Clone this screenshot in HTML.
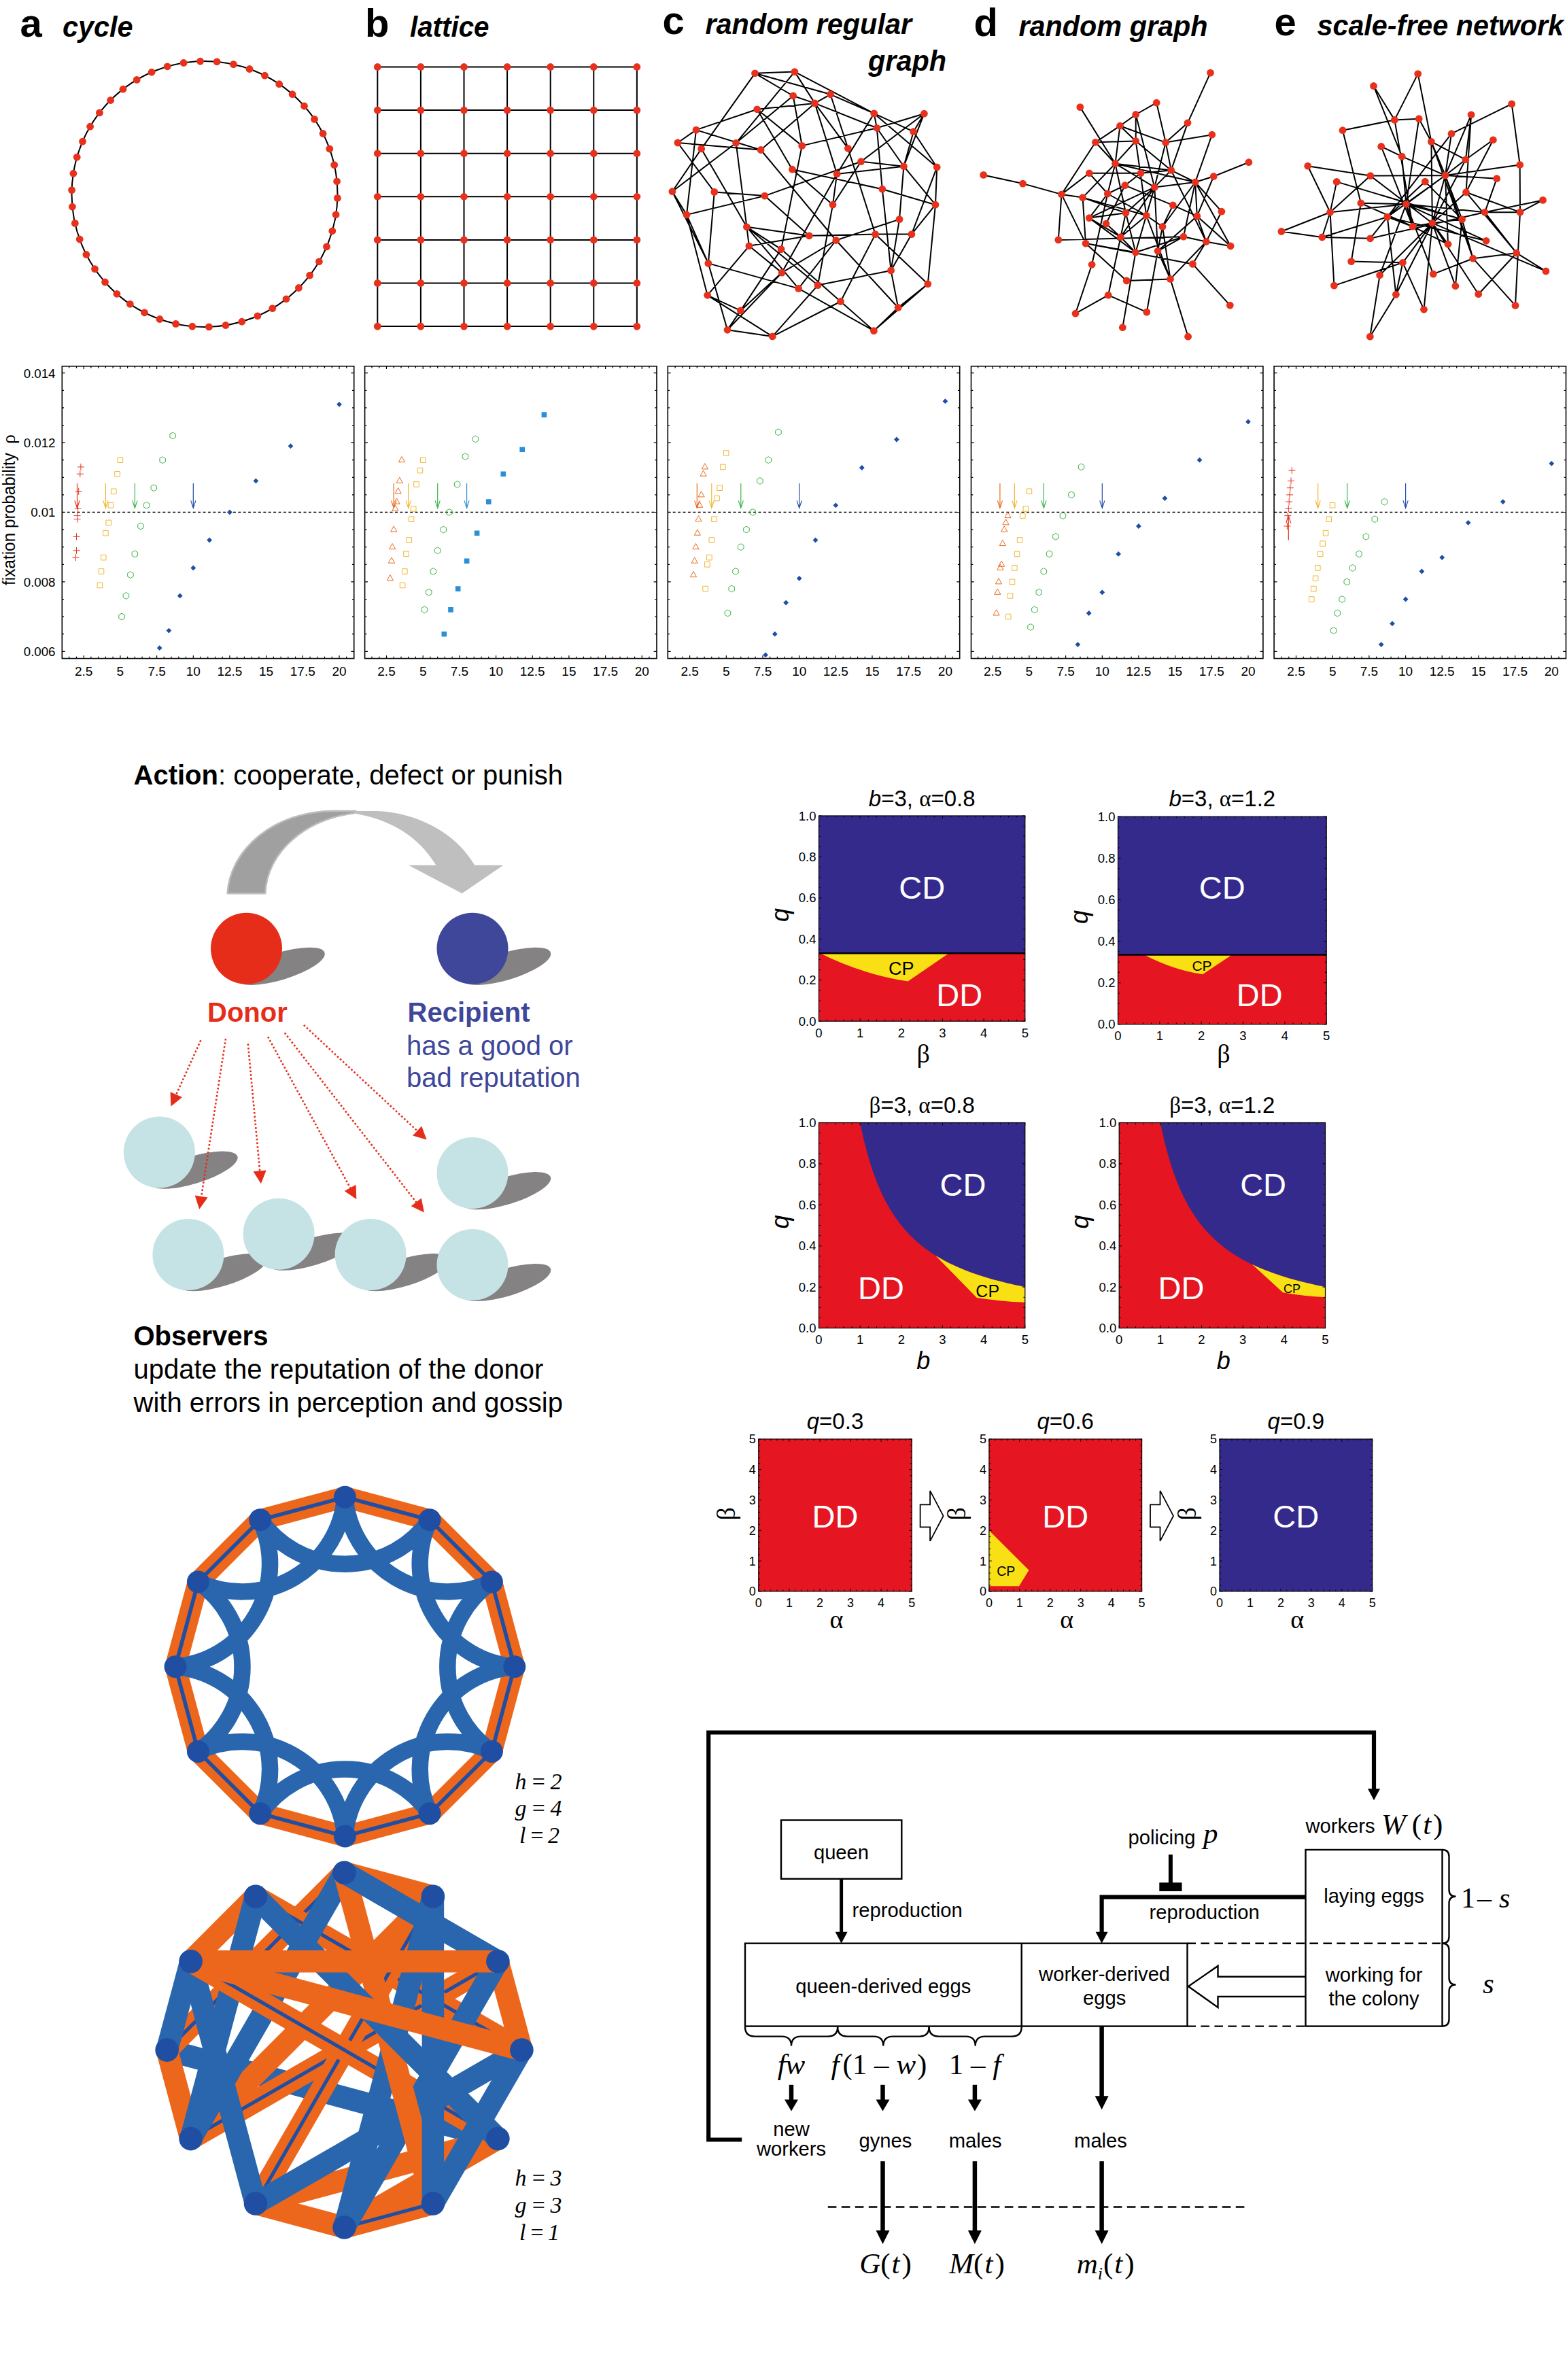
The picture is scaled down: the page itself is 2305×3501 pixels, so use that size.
<!DOCTYPE html>
<html><head><meta charset="utf-8"><title>figure</title>
<style>
html,body{margin:0;padding:0;background:#fff}
svg{display:block}
text{font-family:"Liberation Sans",sans-serif}
.sf{font-family:"Liberation Serif",serif}
</style></head><body>
<svg width="2305" height="3501" viewBox="0 0 2305 3501">
<rect width="2305" height="3501" fill="#fff"/>
<text x="29.5" y="53.5" font-size="58" font-weight="bold">a</text>
<text x="92" y="53.5" font-size="43" font-weight="bold" font-style="italic" textLength="103.5" lengthAdjust="spacingAndGlyphs">cycle</text>
<text x="537" y="53.5" font-size="58" font-weight="bold">b</text>
<text x="603" y="53.5" font-size="43" font-weight="bold" font-style="italic" textLength="116.5" lengthAdjust="spacingAndGlyphs">lattice</text>
<text x="974.5" y="50" font-size="58" font-weight="bold">c</text>
<text x="1037.5" y="50" font-size="43" font-weight="bold" font-style="italic" textLength="303.5" lengthAdjust="spacingAndGlyphs">random regular</text>
<text x="1277" y="104" font-size="43" font-weight="bold" font-style="italic" textLength="115" lengthAdjust="spacingAndGlyphs">graph</text>
<text x="1432.5" y="53" font-size="58" font-weight="bold">d</text>
<text x="1498.5" y="53" font-size="43" font-weight="bold" font-style="italic" textLength="278" lengthAdjust="spacingAndGlyphs">random graph</text>
<text x="1874.5" y="51.5" font-size="58" font-weight="bold">e</text>
<text x="1937.5" y="51.5" font-size="43" font-weight="bold" font-style="italic" textLength="362.5" lengthAdjust="spacingAndGlyphs">scale-free network</text>
<circle cx="301" cy="285.5" r="195.5" fill="none" stroke="#000" stroke-width="2"/>
<g fill="#e8311c"><circle cx="496.4" cy="291.4" r="5.4"/><circle cx="494.1" cy="315.8" r="5.4"/><circle cx="488.8" cy="339.8" r="5.4"/><circle cx="480.5" cy="362.9" r="5.4"/><circle cx="469.4" cy="384.8" r="5.4"/><circle cx="455.6" cy="405.1" r="5.4"/><circle cx="439.4" cy="423.5" r="5.4"/><circle cx="421" cy="439.8" r="5.4"/><circle cx="400.8" cy="453.6" r="5.4"/><circle cx="378.9" cy="464.8" r="5.4"/><circle cx="355.8" cy="473.2" r="5.4"/><circle cx="331.9" cy="478.5" r="5.4"/><circle cx="307.4" cy="480.9" r="5.4"/><circle cx="282.9" cy="480.2" r="5.4"/><circle cx="258.6" cy="476.4" r="5.4"/><circle cx="235" cy="469.5" r="5.4"/><circle cx="212.5" cy="459.8" r="5.4"/><circle cx="191.3" cy="447.3" r="5.4"/><circle cx="171.9" cy="432.3" r="5.4"/><circle cx="154.5" cy="415" r="5.4"/><circle cx="139.5" cy="395.6" r="5.4"/><circle cx="126.9" cy="374.5" r="5.4"/><circle cx="117.2" cy="352" r="5.4"/><circle cx="110.3" cy="328.4" r="5.4"/><circle cx="106.4" cy="304.2" r="5.4"/><circle cx="105.6" cy="279.6" r="5.4"/><circle cx="107.9" cy="255.2" r="5.4"/><circle cx="113.2" cy="231.2" r="5.4"/><circle cx="121.5" cy="208.1" r="5.4"/><circle cx="132.6" cy="186.2" r="5.4"/><circle cx="146.4" cy="165.9" r="5.4"/><circle cx="162.6" cy="147.5" r="5.4"/><circle cx="181" cy="131.2" r="5.4"/><circle cx="201.2" cy="117.4" r="5.4"/><circle cx="223.1" cy="106.2" r="5.4"/><circle cx="246.2" cy="97.8" r="5.4"/><circle cx="270.1" cy="92.5" r="5.4"/><circle cx="294.6" cy="90.1" r="5.4"/><circle cx="319.1" cy="90.8" r="5.4"/><circle cx="343.4" cy="94.6" r="5.4"/><circle cx="367" cy="101.5" r="5.4"/><circle cx="389.5" cy="111.2" r="5.4"/><circle cx="410.7" cy="123.7" r="5.4"/><circle cx="430.1" cy="138.7" r="5.4"/><circle cx="447.5" cy="156" r="5.4"/><circle cx="462.5" cy="175.4" r="5.4"/><circle cx="475.1" cy="196.5" r="5.4"/><circle cx="484.8" cy="219" r="5.4"/><circle cx="491.7" cy="242.6" r="5.4"/><circle cx="495.6" cy="266.8" r="5.4"/></g>
<path d="M555.3 98.5H936.9M555.3 98.5V480.1M555.3 162.1H936.9M618.9 98.5V480.1M555.3 225.7H936.9M682.5 98.5V480.1M555.3 289.3H936.9M746.1 98.5V480.1M555.3 352.9H936.9M809.7 98.5V480.1M555.3 416.5H936.9M873.3 98.5V480.1M555.3 480.1H936.9M936.9 98.5V480.1" stroke="#000" stroke-width="2" fill="none"/>
<g fill="#e8311c"><circle cx="555.3" cy="98.5" r="5.4"/><circle cx="555.3" cy="162.1" r="5.4"/><circle cx="555.3" cy="225.7" r="5.4"/><circle cx="555.3" cy="289.3" r="5.4"/><circle cx="555.3" cy="352.9" r="5.4"/><circle cx="555.3" cy="416.5" r="5.4"/><circle cx="555.3" cy="480.1" r="5.4"/><circle cx="618.9" cy="98.5" r="5.4"/><circle cx="618.9" cy="162.1" r="5.4"/><circle cx="618.9" cy="225.7" r="5.4"/><circle cx="618.9" cy="289.3" r="5.4"/><circle cx="618.9" cy="352.9" r="5.4"/><circle cx="618.9" cy="416.5" r="5.4"/><circle cx="618.9" cy="480.1" r="5.4"/><circle cx="682.5" cy="98.5" r="5.4"/><circle cx="682.5" cy="162.1" r="5.4"/><circle cx="682.5" cy="225.7" r="5.4"/><circle cx="682.5" cy="289.3" r="5.4"/><circle cx="682.5" cy="352.9" r="5.4"/><circle cx="682.5" cy="416.5" r="5.4"/><circle cx="682.5" cy="480.1" r="5.4"/><circle cx="746.1" cy="98.5" r="5.4"/><circle cx="746.1" cy="162.1" r="5.4"/><circle cx="746.1" cy="225.7" r="5.4"/><circle cx="746.1" cy="289.3" r="5.4"/><circle cx="746.1" cy="352.9" r="5.4"/><circle cx="746.1" cy="416.5" r="5.4"/><circle cx="746.1" cy="480.1" r="5.4"/><circle cx="809.7" cy="98.5" r="5.4"/><circle cx="809.7" cy="162.1" r="5.4"/><circle cx="809.7" cy="225.7" r="5.4"/><circle cx="809.7" cy="289.3" r="5.4"/><circle cx="809.7" cy="352.9" r="5.4"/><circle cx="809.7" cy="416.5" r="5.4"/><circle cx="809.7" cy="480.1" r="5.4"/><circle cx="873.3" cy="98.5" r="5.4"/><circle cx="873.3" cy="162.1" r="5.4"/><circle cx="873.3" cy="225.7" r="5.4"/><circle cx="873.3" cy="289.3" r="5.4"/><circle cx="873.3" cy="352.9" r="5.4"/><circle cx="873.3" cy="416.5" r="5.4"/><circle cx="873.3" cy="480.1" r="5.4"/><circle cx="936.9" cy="98.5" r="5.4"/><circle cx="936.9" cy="162.1" r="5.4"/><circle cx="936.9" cy="225.7" r="5.4"/><circle cx="936.9" cy="289.3" r="5.4"/><circle cx="936.9" cy="352.9" r="5.4"/><circle cx="936.9" cy="416.5" r="5.4"/><circle cx="936.9" cy="480.1" r="5.4"/></g>
<path d="M1110.5 107.8L1168.9 105.6M1110.5 107.8L1031.7 218.9M1110.5 107.8L1166.7 141M1166.7 141L1198.6 151.9M1110.5 107.8L1221.5 138.8M1168.9 105.6L1285.7 166.9M1168.9 105.6L1198.6 151.9M1168.9 105.6L1082.7 210.3M1221.5 138.8L1285.7 166.9M1221.5 138.8L1198.6 151.9M1221.5 138.8L1247.4 218.3M1198.6 151.9L1113.7 160.8M1198.6 151.9L1119.1 220.5M1198.6 151.9L1289.8 188.3M1198.6 151.9L1231.1 255.9M1198.6 151.9L1247.4 218.3M1166.7 141L1082.7 210.3M1166.7 141L1179.7 214.4M1113.7 160.8L1024 191.1M1113.7 160.8L1179.7 214.4M1113.7 160.8L1165.4 249.2M1285.7 166.9L1289.8 188.3M1285.7 166.9L1343.7 193.7M1285.7 166.9L1378.2 246M1285.7 166.9L1231.1 255.9M1359.4 167.2L1289.8 188.3M1289.8 188.3L1179.7 214.4M1359.4 167.2L1343.7 193.7M1359.4 167.2L1266.5 237.7M1359.4 167.2L1329.4 244.7M1343.7 193.7L1378.2 246M1289.8 188.3L1329.4 244.7M1289.8 188.3L1297.8 278.2M1024 191.1L996.9 210M1024 191.1L1119.1 220.5M1024 191.1L1010 315.9M996.9 210L1119.1 220.5M996.9 210L1050.8 282.4M1082.7 210.3L988.9 281.7M1082.7 210.3L1098.4 333.8M1031.7 218.9L988.9 281.7M1031.7 218.9L1098.4 333.8M988.9 281.7L1010 315.9M1165.4 249.2L1225 301.2M1119.1 220.5L1229.8 353.5M1247.4 218.3L1287.6 344.6M1231.1 255.9L1329.4 244.7M1266.5 237.7L1329.4 244.7M1231.1 255.9L1225 301.2M1266.5 237.7L1124.9 288.1M1266.5 237.7L1225 301.2M1165.4 249.2L1297.8 278.2M1050.8 282.4L1124.9 288.1M1050.8 282.4L1041.9 387.4M1124.9 288.1L1010 315.9M1124.9 288.1L1190.3 346.8M1297.8 278.2L1376 301.2M1297.8 278.2L1310.6 397.9M1329.4 244.7L1343.7 193.7M1329.4 244.7L1323 322.6M1329.4 244.7L1376 301.2M1378.2 246L1340.9 344.6M1378.2 246L1376 301.2M1376 301.2L1340.9 344.6M1376 301.2L1364.8 417.7M1190.3 346.8L1287.6 344.6M1287.6 344.6L1340.9 344.6M1323 322.6L1310.6 397.9M1098.4 333.8L1190.3 346.8M1098.4 333.8L1174.6 424.4M1098.4 333.8L1203 419.6M1101.9 361.8L1190.3 346.8M1101.9 361.8L1040.6 434.3M1101.9 361.8L1150.1 401.1M1149.1 366.6L1089.4 456.9M1229.8 353.5L1150.1 401.1M1229.8 353.5L1174.6 424.4M1229.8 353.5L1321.1 452.5M1225 301.2L1203 419.6M1287.6 344.6L1236.5 443.5M1287.6 344.6L1364.8 417.7M1340.9 344.6L1310.6 397.9M1041.9 387.4L1010 315.9M1041.9 387.4L1174.6 424.4M1041.9 387.4L1070 485.3M1010 315.9L1040.6 434.3M1150.1 401.1L1089.4 456.9M1150.1 401.1L1070 485.3M1310.6 397.9L1203 419.6M1310.6 397.9L1321.1 452.5M1364.8 417.7L1321.1 452.5M1364.8 417.7L1285.4 486.6M1174.6 424.4L1285.4 486.6M1203 419.6L1136.3 494.9M1040.6 434.3L1089.4 456.9M1040.6 434.3L1136.3 494.9M1236.5 443.5L1136.3 494.9M1236.5 443.5L1285.4 486.6M1321.1 452.5L1285.4 486.6M1089.4 456.9L1070 485.3M1070 485.3L1136.3 494.9M1149.1 366.6L1179.7 214.4M1149.1 366.6L1098.4 333.8M1323 322.6L1229.8 353.5M1150.1 401.1L1231.1 255.9M1149.1 366.6L1236.5 443.5M988.9 281.7L1041.9 387.4M1098.4 333.8L1101.9 361.8" stroke="#000" stroke-width="2.0" fill="none"/>
<g fill="#e8311c"><circle cx="1110.5" cy="107.8" r="5.4"/><circle cx="1168.9" cy="105.6" r="5.4"/><circle cx="1166.7" cy="141" r="5.4"/><circle cx="1221.5" cy="138.8" r="5.4"/><circle cx="1198.6" cy="151.9" r="5.4"/><circle cx="1113.7" cy="160.8" r="5.4"/><circle cx="1285.7" cy="166.9" r="5.4"/><circle cx="1359.4" cy="167.2" r="5.4"/><circle cx="1289.8" cy="188.3" r="5.4"/><circle cx="1343.7" cy="193.7" r="5.4"/><circle cx="1024" cy="191.1" r="5.4"/><circle cx="996.9" cy="210" r="5.4"/><circle cx="1031.7" cy="218.9" r="5.4"/><circle cx="1082.7" cy="210.3" r="5.4"/><circle cx="1119.1" cy="220.5" r="5.4"/><circle cx="1179.7" cy="214.4" r="5.4"/><circle cx="1247.4" cy="218.3" r="5.4"/><circle cx="1266.5" cy="237.7" r="5.4"/><circle cx="1329.4" cy="244.7" r="5.4"/><circle cx="1378.2" cy="246" r="5.4"/><circle cx="1165.4" cy="249.2" r="5.4"/><circle cx="1231.1" cy="255.9" r="5.4"/><circle cx="988.9" cy="281.7" r="5.4"/><circle cx="1050.8" cy="282.4" r="5.4"/><circle cx="1124.9" cy="288.1" r="5.4"/><circle cx="1297.8" cy="278.2" r="5.4"/><circle cx="1225" cy="301.2" r="5.4"/><circle cx="1376" cy="301.2" r="5.4"/><circle cx="1010" cy="315.9" r="5.4"/><circle cx="1323" cy="322.6" r="5.4"/><circle cx="1098.4" cy="333.8" r="5.4"/><circle cx="1190.3" cy="346.8" r="5.4"/><circle cx="1287.6" cy="344.6" r="5.4"/><circle cx="1340.9" cy="344.6" r="5.4"/><circle cx="1229.8" cy="353.5" r="5.4"/><circle cx="1101.9" cy="361.8" r="5.4"/><circle cx="1149.1" cy="366.6" r="5.4"/><circle cx="1041.9" cy="387.4" r="5.4"/><circle cx="1150.1" cy="401.1" r="5.4"/><circle cx="1310.6" cy="397.9" r="5.4"/><circle cx="1364.8" cy="417.7" r="5.4"/><circle cx="1174.6" cy="424.4" r="5.4"/><circle cx="1203" cy="419.6" r="5.4"/><circle cx="1040.6" cy="434.3" r="5.4"/><circle cx="1236.5" cy="443.5" r="5.4"/><circle cx="1321.1" cy="452.5" r="5.4"/><circle cx="1089.4" cy="456.9" r="5.4"/><circle cx="1070" cy="485.3" r="5.4"/><circle cx="1136.3" cy="494.9" r="5.4"/><circle cx="1285.4" cy="486.6" r="5.4"/></g>
<path d="M1780.5 107.1L1747 180.8M1747 180.8L1722.7 250.4M1747 180.8L1714.7 209.6M1701.2 151.2L1670.7 168.5M1701.2 151.2L1714.7 209.6M1670.7 168.5L1647.5 185.2M1670.7 168.5L1670.7 207.5M1670.7 168.5L1698.3 275.4M1588.8 157.6L1640.5 240.7M1647.5 185.2L1611.4 209.3M1647.5 185.2L1714.7 209.6M1647.5 185.2L1640.5 240.7M1647.5 185.2L1670.7 207.5M1611.4 209.3L1670.7 207.5M1611.4 209.3L1561.5 285.9M1670.7 207.5L1640.5 240.7M1670.7 207.5L1722.7 250.4M1670.7 207.5L1686.3 317M1714.7 209.6L1722.7 250.4M1714.7 209.6L1698.3 275.4M1782.8 198.2L1714.7 209.6M1782.8 198.2L1758.2 268M1836.9 238.7L1785.2 259.5M1785.2 259.5L1758.2 268M1785.2 259.5L1760.8 317.9M1640.5 240.7L1722.7 250.4M1640.5 240.7L1592.6 290.6M1640.5 240.7L1629.3 285M1640.5 240.7L1656 313.2M1640.5 240.7L1758.2 268M1640.5 240.7L1698.3 275.4M1602.3 254.8L1678 254.8M1678 254.8L1722.7 250.4M1602.3 254.8L1561.5 285.9M1602.3 254.8L1629.3 285M1722.7 250.4L1758.2 268M1722.7 250.4L1698.3 275.4M1722.7 250.4L1774.3 355.5M1758.2 268L1796.9 311.2M1446.7 257.4L1504.5 270.1M1504.5 270.1L1561.5 285.9M1561.5 285.9L1592.6 290.6M1561.5 285.9L1556.8 352.9M1561.5 285.9L1597 358.1M1592.6 290.6L1597 358.1M1592.6 290.6L1686.3 317M1758.2 268L1698.3 275.4M1758.2 268L1760.8 317.9M1758.2 268L1710 333.5M1758.2 268L1740.9 348.2M1758.2 268L1810.1 362M1654.8 272.7L1725.3 301.8M1654.8 272.7L1627 329.1M1654.8 272.7L1629.3 285M1698.3 275.4L1602.3 320.6M1698.3 275.4L1670.4 371.3M1698.3 275.4L1703 369.3M1698.3 275.4L1656 313.2M1629.3 285L1606.1 389.3M1629.3 285L1686.3 317M1629.3 285L1602.3 320.6M1725.3 301.8L1760.8 317.9M1725.3 301.8L1710 333.5M1796.9 311.2L1774.3 355.5M1656 313.2L1670.4 371.3M1656 313.2L1630.2 434.2M1656 313.2L1602.3 320.6M1686.3 317L1710 333.5M1686.3 317L1721.5 410.4M1686.3 317L1648.4 348.7M1760.8 317.9L1774.3 355.5M1760.8 317.9L1703 369.3M1602.3 320.6L1648.4 348.7M1602.3 320.6L1670.4 371.3M1627 329.1L1648.4 348.7M1556.8 352.9L1740.9 348.2M1648.4 348.7L1670.4 371.3M1740.9 348.2L1774.3 355.5M1740.9 348.2L1670.4 371.3M1597 358.1L1670.4 371.3M1597 358.1L1754.4 388.4M1597 358.1L1657.2 413M1774.3 355.5L1810.1 362M1774.3 355.5L1754.4 388.4M1774.3 355.5L1721.5 410.4M1810.1 362L1760.8 317.9M1670.4 371.3L1651.3 481.7M1703 369.3L1686.8 459.1M1703 369.3L1721.5 410.4M1703 369.3L1740.9 348.2M1606.1 389.3L1582 461.2M1754.4 388.4L1809.3 449.1M1657.2 413L1721.5 410.4M1721.5 410.4L1747.6 495.2M1630.2 434.2L1582 461.2M1630.2 434.2L1686.8 459.1M1710 333.5L1721.5 410.4M1611.4 209.3L1640.5 240.7M1592.6 290.6L1656 313.2M1698.3 275.4L1648.4 348.7M1703 369.3L1710 333.5M1678 254.8L1654.8 272.7" stroke="#000" stroke-width="2.0" fill="none"/>
<g fill="#e8311c"><circle cx="1780.5" cy="107.1" r="5.4"/><circle cx="1701.2" cy="151.2" r="5.4"/><circle cx="1588.8" cy="157.6" r="5.4"/><circle cx="1670.7" cy="168.5" r="5.4"/><circle cx="1747" cy="180.8" r="5.4"/><circle cx="1647.5" cy="185.2" r="5.4"/><circle cx="1782.8" cy="198.2" r="5.4"/><circle cx="1611.4" cy="209.3" r="5.4"/><circle cx="1670.7" cy="207.5" r="5.4"/><circle cx="1714.7" cy="209.6" r="5.4"/><circle cx="1836.9" cy="238.7" r="5.4"/><circle cx="1640.5" cy="240.7" r="5.4"/><circle cx="1722.7" cy="250.4" r="5.4"/><circle cx="1602.3" cy="254.8" r="5.4"/><circle cx="1678" cy="254.8" r="5.4"/><circle cx="1785.2" cy="259.5" r="5.4"/><circle cx="1446.7" cy="257.4" r="5.4"/><circle cx="1504.5" cy="270.1" r="5.4"/><circle cx="1758.2" cy="268" r="5.4"/><circle cx="1654.8" cy="272.7" r="5.4"/><circle cx="1698.3" cy="275.4" r="5.4"/><circle cx="1561.5" cy="285.9" r="5.4"/><circle cx="1592.6" cy="290.6" r="5.4"/><circle cx="1629.3" cy="285" r="5.4"/><circle cx="1725.3" cy="301.8" r="5.4"/><circle cx="1796.9" cy="311.2" r="5.4"/><circle cx="1656" cy="313.2" r="5.4"/><circle cx="1686.3" cy="317" r="5.4"/><circle cx="1760.8" cy="317.9" r="5.4"/><circle cx="1602.3" cy="320.6" r="5.4"/><circle cx="1627" cy="329.1" r="5.4"/><circle cx="1710" cy="333.5" r="5.4"/><circle cx="1556.8" cy="352.9" r="5.4"/><circle cx="1648.4" cy="348.7" r="5.4"/><circle cx="1740.9" cy="348.2" r="5.4"/><circle cx="1597" cy="358.1" r="5.4"/><circle cx="1774.3" cy="355.5" r="5.4"/><circle cx="1810.1" cy="362" r="5.4"/><circle cx="1670.4" cy="371.3" r="5.4"/><circle cx="1703" cy="369.3" r="5.4"/><circle cx="1606.1" cy="389.3" r="5.4"/><circle cx="1754.4" cy="388.4" r="5.4"/><circle cx="1657.2" cy="413" r="5.4"/><circle cx="1721.5" cy="410.4" r="5.4"/><circle cx="1630.2" cy="434.2" r="5.4"/><circle cx="1809.3" cy="449.1" r="5.4"/><circle cx="1582" cy="461.2" r="5.4"/><circle cx="1686.8" cy="459.1" r="5.4"/><circle cx="1651.3" cy="481.7" r="5.4"/><circle cx="1747.6" cy="495.2" r="5.4"/></g>
<path d="M2085.7 108.6L2051.4 176.4M2085.7 108.6L2105.4 208.4M2020.5 126.5L2051.4 176.4M2020.5 126.5L2062.2 230.1M2223.7 152.9L2135 196.7M2223.7 152.9L2235.7 242.5M2164.1 168.8L2155.9 234.8M2164.1 168.8L2125.9 258M2051.4 176.4L2087.2 174.7M2051.4 176.4L1975 191.7M2051.4 176.4L2078.1 333.2M2087.2 174.7L2105.4 208.4M2087.2 174.7L2068.4 300.3M1975 191.7L2001.8 298.8M2135 196.7L2125.9 258M2135 196.7L2040.8 319.1M2196.4 205.8L2155.9 234.8M2196.4 205.8L2156.5 282.7M2105.4 208.4L2155.9 234.8M2105.4 208.4L2106.9 328.2M2105.4 208.4L2125.9 258M2105.4 208.4L2166.7 380.2M2031.7 215.5L2062.2 230.1M2031.7 215.5L2078.1 333.2M2062.2 230.1L2125.9 258M2062.2 230.1L2068.4 300.3M2155.9 234.8L2125.9 258M2155.9 234.8L2106.9 328.2M2235.7 242.5L2125.9 258M2235.7 242.5L2236 312.1M1923.7 244.2L2015.8 258.6M1923.7 244.2L1956.6 312.3M2015.8 258.6L2125.9 258M2015.8 258.6L1956.6 312.3M2015.8 258.6L2106.9 328.2M2125.9 258L2201.7 262.7M2125.9 258L2068.4 300.3M2125.9 258L2106.9 328.2M2125.9 258L2040.8 319.1M2125.9 258L2130 359.3M2125.9 258L2166.7 380.2M2125.9 258L2150.6 322.6M2201.7 262.7L2184.1 312.3M1966.2 267.4L1956.6 312.3M1966.2 267.4L2150.6 322.6M2096.3 267.1L2040.8 319.1M2156.5 282.7L2106.9 328.2M2156.5 282.7L2236 312.1M2156.5 282.7L2230.7 372.2M2269.5 294.4L2184.1 312.3M2269.5 294.4L2236 312.1M2001.8 298.8L2068.4 300.3M2001.8 298.8L1987.7 384.6M2001.8 298.8L2078.1 333.2M2068.4 300.3L1956.6 312.3M2068.4 300.3L2184.1 312.3M2068.4 300.3L2150.6 322.6M2068.4 300.3L2186.1 354.3M2068.4 300.3L2108.3 403.1M2040.8 319.1L2015.6 350.8M2068.4 300.3L2029.6 404.8M1956.6 312.3L1884.9 340.5M1956.6 312.3L1944.8 349M1956.6 312.3L1962.4 420.1M2184.1 312.3L2015.6 350.8M2184.1 312.3L2236 312.1M2184.1 312.3L2230.7 372.2M2236 312.1L2229 449.4M2040.8 319.1L1944.8 349M2040.8 319.1L2053.4 433.3M2040.8 319.1L2186.1 354.3M2150.6 322.6L2106.9 328.2M2150.6 322.6L2140.9 420.7M2106.9 328.2L2078.1 333.2M2106.9 328.2L2063.4 386.3M2106.9 328.2L2029.6 404.8M2106.9 328.2L2053.4 433.3M2106.9 328.2L2094.5 455.3M2106.9 328.2L2140.9 420.7M2106.9 328.2L2174.7 432.7M2106.9 328.2L2273.9 398.9M2106.9 328.2L2130 359.3M2078.1 333.2L2130 359.3M1884.9 340.5L1944.8 349M1944.8 349L2015.6 350.8M2230.7 372.2L2166.7 380.2M2230.7 372.2L2273.9 398.9M2230.7 372.2L2174.7 432.7M2166.7 380.2L2229 449.4M2166.7 380.2L2108.3 403.1M1987.7 384.6L2063.4 386.3M2063.4 386.3L2053.4 433.3M2063.4 386.3L2094.5 455.3M2063.4 386.3L1962.4 420.1M2029.6 404.8L2015.3 495.2M2053.4 433.3L2015.3 495.2M2164.1 168.8L2156.5 282.7M2096.3 267.1L2150.6 322.6M2150.6 322.6L2166.7 380.2M2040.8 319.1L2078.1 333.2M2068.4 300.3L2078.1 333.2" stroke="#000" stroke-width="2.0" fill="none"/>
<g fill="#e8311c"><circle cx="2085.7" cy="108.6" r="5.4"/><circle cx="2020.5" cy="126.5" r="5.4"/><circle cx="2223.7" cy="152.9" r="5.4"/><circle cx="2164.1" cy="168.8" r="5.4"/><circle cx="2051.4" cy="176.4" r="5.4"/><circle cx="2087.2" cy="174.7" r="5.4"/><circle cx="1975" cy="191.7" r="5.4"/><circle cx="2135" cy="196.7" r="5.4"/><circle cx="2196.4" cy="205.8" r="5.4"/><circle cx="2105.4" cy="208.4" r="5.4"/><circle cx="2031.7" cy="215.5" r="5.4"/><circle cx="2062.2" cy="230.1" r="5.4"/><circle cx="2155.9" cy="234.8" r="5.4"/><circle cx="2235.7" cy="242.5" r="5.4"/><circle cx="1923.7" cy="244.2" r="5.4"/><circle cx="2015.8" cy="258.6" r="5.4"/><circle cx="2125.9" cy="258" r="5.4"/><circle cx="2201.7" cy="262.7" r="5.4"/><circle cx="1966.2" cy="267.4" r="5.4"/><circle cx="2096.3" cy="267.1" r="5.4"/><circle cx="2156.5" cy="282.7" r="5.4"/><circle cx="2269.5" cy="294.4" r="5.4"/><circle cx="2001.8" cy="298.8" r="5.4"/><circle cx="2068.4" cy="300.3" r="5.4"/><circle cx="1956.6" cy="312.3" r="5.4"/><circle cx="2184.1" cy="312.3" r="5.4"/><circle cx="2236" cy="312.1" r="5.4"/><circle cx="2040.8" cy="319.1" r="5.4"/><circle cx="2150.6" cy="322.6" r="5.4"/><circle cx="2106.9" cy="328.2" r="5.4"/><circle cx="2078.1" cy="333.2" r="5.4"/><circle cx="1884.9" cy="340.5" r="5.4"/><circle cx="1944.8" cy="349" r="5.4"/><circle cx="2015.6" cy="350.8" r="5.4"/><circle cx="2186.1" cy="354.3" r="5.4"/><circle cx="2130" cy="359.3" r="5.4"/><circle cx="2230.7" cy="372.2" r="5.4"/><circle cx="2166.7" cy="380.2" r="5.4"/><circle cx="1987.7" cy="384.6" r="5.4"/><circle cx="2063.4" cy="386.3" r="5.4"/><circle cx="2273.9" cy="398.9" r="5.4"/><circle cx="2029.6" cy="404.8" r="5.4"/><circle cx="2108.3" cy="403.1" r="5.4"/><circle cx="1962.4" cy="420.1" r="5.4"/><circle cx="2140.9" cy="420.7" r="5.4"/><circle cx="2053.4" cy="433.3" r="5.4"/><circle cx="2174.7" cy="432.7" r="5.4"/><circle cx="2229" cy="449.4" r="5.4"/><circle cx="2094.5" cy="455.3" r="5.4"/><circle cx="2015.3" cy="495.2" r="5.4"/></g>
<rect x="91.3" y="538.7" width="429.4" height="429.9" fill="none" stroke="#000" stroke-width="1.6"/><path d="M101.7 968.6v-2.8 M101.7 538.7v2.8M112.5 968.6v-2.8 M112.5 538.7v2.8M123.2 968.6v-4.4 M123.2 538.7v4.4M133.9 968.6v-2.8 M133.9 538.7v2.8M144.7 968.6v-2.8 M144.7 538.7v2.8M155.4 968.6v-2.8 M155.4 538.7v2.8M166.1 968.6v-2.8 M166.1 538.7v2.8M176.9 968.6v-4.4 M176.9 538.7v4.4M187.6 968.6v-2.8 M187.6 538.7v2.8M198.4 968.6v-2.8 M198.4 538.7v2.8M209.1 968.6v-2.8 M209.1 538.7v2.8M219.8 968.6v-2.8 M219.8 538.7v2.8M230.6 968.6v-4.4 M230.6 538.7v4.4M241.3 968.6v-2.8 M241.3 538.7v2.8M252 968.6v-2.8 M252 538.7v2.8M262.8 968.6v-2.8 M262.8 538.7v2.8M273.5 968.6v-2.8 M273.5 538.7v2.8M284.3 968.6v-4.4 M284.3 538.7v4.4M295 968.6v-2.8 M295 538.7v2.8M305.7 968.6v-2.8 M305.7 538.7v2.8M316.5 968.6v-2.8 M316.5 538.7v2.8M327.2 968.6v-2.8 M327.2 538.7v2.8M337.9 968.6v-4.4 M337.9 538.7v4.4M348.7 968.6v-2.8 M348.7 538.7v2.8M359.4 968.6v-2.8 M359.4 538.7v2.8M370.2 968.6v-2.8 M370.2 538.7v2.8M380.9 968.6v-2.8 M380.9 538.7v2.8M391.6 968.6v-4.4 M391.6 538.7v4.4M402.4 968.6v-2.8 M402.4 538.7v2.8M413.1 968.6v-2.8 M413.1 538.7v2.8M423.8 968.6v-2.8 M423.8 538.7v2.8M434.6 968.6v-2.8 M434.6 538.7v2.8M445.3 968.6v-4.4 M445.3 538.7v4.4M456.1 968.6v-2.8 M456.1 538.7v2.8M466.8 968.6v-2.8 M466.8 538.7v2.8M477.5 968.6v-2.8 M477.5 538.7v2.8M488.3 968.6v-2.8 M488.3 538.7v2.8M499 968.6v-4.4 M499 538.7v4.4M509.7 968.6v-2.8 M509.7 538.7v2.8M91.3 958.3h4.4 M520.7 958.3h-4.4M91.3 932.7h2.8 M520.7 932.7h-2.8M91.3 907.1h2.8 M520.7 907.1h-2.8M91.3 881.5h2.8 M520.7 881.5h-2.8M91.3 855.9h4.4 M520.7 855.9h-4.4M91.3 830.3h2.8 M520.7 830.3h-2.8M91.3 804.7h2.8 M520.7 804.7h-2.8M91.3 779.1h2.8 M520.7 779.1h-2.8M91.3 753.5h4.4 M520.7 753.5h-4.4M91.3 727.9h2.8 M520.7 727.9h-2.8M91.3 702.3h2.8 M520.7 702.3h-2.8M91.3 676.7h2.8 M520.7 676.7h-2.8M91.3 651.1h4.4 M520.7 651.1h-4.4M91.3 625.5h2.8 M520.7 625.5h-2.8M91.3 599.9h2.8 M520.7 599.9h-2.8M91.3 574.3h2.8 M520.7 574.3h-2.8M91.3 548.7h4.4 M520.7 548.7h-4.4" stroke="#000" stroke-width="1.2" fill="none"/><line x1="91.3" y1="753.5" x2="520.7" y2="753.5" stroke="#000" stroke-width="1.4" stroke-dasharray="4 3.4"/><text x="123.2" y="993.5" font-size="19" text-anchor="middle">2.5</text><text x="176.9" y="993.5" font-size="19" text-anchor="middle">5</text><text x="230.6" y="993.5" font-size="19" text-anchor="middle">7.5</text><text x="284.3" y="993.5" font-size="19" text-anchor="middle">10</text><text x="337.9" y="993.5" font-size="19" text-anchor="middle">12.5</text><text x="391.6" y="993.5" font-size="19" text-anchor="middle">15</text><text x="445.3" y="993.5" font-size="19" text-anchor="middle">17.5</text><text x="499" y="993.5" font-size="19" text-anchor="middle">20</text><text x="81.5" y="555.5" font-size="18.7" text-anchor="end">0.014</text><text x="81.5" y="657.9" font-size="18.7" text-anchor="end">0.012</text><text x="81.5" y="760.3" font-size="18.7" text-anchor="end">0.01</text><text x="81.5" y="862.7" font-size="18.7" text-anchor="end">0.008</text><text x="81.5" y="965.1" font-size="18.7" text-anchor="end">0.006</text><path d="M113.9 686.9h10M118.9 681.9v10M112.8 697.2h10M117.8 692.2v10M110.7 722.8h10M115.7 717.8v10M109.6 748.4h10M114.6 743.4v10M108.5 758.6h10M113.5 753.6v10M108.5 763.7h10M113.5 758.7v10M107.5 789.3h10M112.5 784.3v10M107.5 809.8h10M112.5 804.8v10M106.4 820.1h10M111.4 815.1v10" fill="none" stroke="#e8311c" stroke-width="1"/><path d="M173.1 672.9h7.6v7.6h-7.6zM168.8 693.4h7.6v7.6h-7.6zM163.4 719h7.6v7.6h-7.6zM159.1 739.5h7.6v7.6h-7.6zM155.9 765.1h7.6v7.6h-7.6zM151.6 780.4h7.6v7.6h-7.6zM148.4 816.3h7.6v7.6h-7.6zM145.2 836.7h7.6v7.6h-7.6zM143 857.2h7.6v7.6h-7.6z" fill="none" stroke="#f2b632" stroke-width="1"/><path d="M258.4 643.3L254.2 645.8L249.9 643.3L249.9 638.4L254.2 636L258.4 638.4zM243.4 679.2L239.2 681.6L234.9 679.2L234.9 674.2L239.2 671.8L243.4 674.2zM230.5 720.1L226.3 722.6L222 720.1L222 715.2L226.3 712.8L230.5 715.2zM219.8 745.7L215.5 748.2L211.3 745.7L211.3 740.8L215.5 738.4L219.8 740.8zM211.2 776.4L206.9 778.9L202.7 776.4L202.7 771.5L206.9 769.1L211.2 771.5zM202.6 817.4L198.4 819.8L194.1 817.4L194.1 812.5L198.4 810L202.6 812.5zM196.2 848.1L191.9 850.6L187.7 848.1L187.7 843.2L191.9 840.8L196.2 843.2zM189.7 878.8L185.5 881.3L181.2 878.8L181.2 873.9L185.5 871.5L189.7 873.9zM183.3 909.6L179 912L174.8 909.6L174.8 904.6L179 902.2L183.3 904.6z" fill="none" stroke="#3db54a" stroke-width="1"/><path d="M499 590.9l3.9 3.9l-3.9 3.9l-3.9 -3.9zM427.5 652.3l3.9 3.9l-3.9 3.9l-3.9 -3.9zM376.4 703.5l3.9 3.9l-3.9 3.9l-3.9 -3.9zM337.9 749.6l3.9 3.9l-3.9 3.9l-3.9 -3.9zM308.1 790.6l3.9 3.9l-3.9 3.9l-3.9 -3.9zM284.3 831.5l3.9 3.9l-3.9 3.9l-3.9 -3.9zM264.7 872.5l3.9 3.9l-3.9 3.9l-3.9 -3.9zM248.4 923.7l3.9 3.9l-3.9 3.9l-3.9 -3.9zM234.7 949.3l3.9 3.9l-3.9 3.9l-3.9 -3.9z" fill="#1f4ea6"/><path d="M113.5 711V747.4M109.9 736.4L113.5 747.4L117.1 736.4" fill="none" stroke="#e8311c" stroke-width="1.2"/><path d="M155.4 711V747.4M151.8 736.4L155.4 747.4L159 736.4" fill="none" stroke="#f2b632" stroke-width="1.2"/><path d="M198.4 711V747.4M194.8 736.4L198.4 747.4L202 736.4" fill="none" stroke="#3db54a" stroke-width="1.2"/><path d="M284.3 711V747.4M280.7 736.4L284.3 747.4L287.9 736.4" fill="none" stroke="#1f4ea6" stroke-width="1.2"/>
<rect x="536.6" y="538.7" width="429.4" height="429.9" fill="none" stroke="#000" stroke-width="1.6"/><path d="M547 968.6v-2.8 M547 538.7v2.8M557.8 968.6v-2.8 M557.8 538.7v2.8M568.5 968.6v-4.4 M568.5 538.7v4.4M579.2 968.6v-2.8 M579.2 538.7v2.8M590 968.6v-2.8 M590 538.7v2.8M600.7 968.6v-2.8 M600.7 538.7v2.8M611.4 968.6v-2.8 M611.4 538.7v2.8M622.2 968.6v-4.4 M622.2 538.7v4.4M632.9 968.6v-2.8 M632.9 538.7v2.8M643.7 968.6v-2.8 M643.7 538.7v2.8M654.4 968.6v-2.8 M654.4 538.7v2.8M665.1 968.6v-2.8 M665.1 538.7v2.8M675.9 968.6v-4.4 M675.9 538.7v4.4M686.6 968.6v-2.8 M686.6 538.7v2.8M697.3 968.6v-2.8 M697.3 538.7v2.8M708.1 968.6v-2.8 M708.1 538.7v2.8M718.8 968.6v-2.8 M718.8 538.7v2.8M729.6 968.6v-4.4 M729.6 538.7v4.4M740.3 968.6v-2.8 M740.3 538.7v2.8M751 968.6v-2.8 M751 538.7v2.8M761.8 968.6v-2.8 M761.8 538.7v2.8M772.5 968.6v-2.8 M772.5 538.7v2.8M783.2 968.6v-4.4 M783.2 538.7v4.4M794 968.6v-2.8 M794 538.7v2.8M804.7 968.6v-2.8 M804.7 538.7v2.8M815.5 968.6v-2.8 M815.5 538.7v2.8M826.2 968.6v-2.8 M826.2 538.7v2.8M836.9 968.6v-4.4 M836.9 538.7v4.4M847.7 968.6v-2.8 M847.7 538.7v2.8M858.4 968.6v-2.8 M858.4 538.7v2.8M869.1 968.6v-2.8 M869.1 538.7v2.8M879.9 968.6v-2.8 M879.9 538.7v2.8M890.6 968.6v-4.4 M890.6 538.7v4.4M901.4 968.6v-2.8 M901.4 538.7v2.8M912.1 968.6v-2.8 M912.1 538.7v2.8M922.8 968.6v-2.8 M922.8 538.7v2.8M933.6 968.6v-2.8 M933.6 538.7v2.8M944.3 968.6v-4.4 M944.3 538.7v4.4M955 968.6v-2.8 M955 538.7v2.8M536.6 958.3h4.4 M966 958.3h-4.4M536.6 932.7h2.8 M966 932.7h-2.8M536.6 907.1h2.8 M966 907.1h-2.8M536.6 881.5h2.8 M966 881.5h-2.8M536.6 855.9h4.4 M966 855.9h-4.4M536.6 830.3h2.8 M966 830.3h-2.8M536.6 804.7h2.8 M966 804.7h-2.8M536.6 779.1h2.8 M966 779.1h-2.8M536.6 753.5h4.4 M966 753.5h-4.4M536.6 727.9h2.8 M966 727.9h-2.8M536.6 702.3h2.8 M966 702.3h-2.8M536.6 676.7h2.8 M966 676.7h-2.8M536.6 651.1h4.4 M966 651.1h-4.4M536.6 625.5h2.8 M966 625.5h-2.8M536.6 599.9h2.8 M966 599.9h-2.8M536.6 574.3h2.8 M966 574.3h-2.8M536.6 548.7h4.4 M966 548.7h-4.4" stroke="#000" stroke-width="1.2" fill="none"/><line x1="536.6" y1="753.5" x2="966" y2="753.5" stroke="#000" stroke-width="1.4" stroke-dasharray="4 3.4"/><text x="568.5" y="993.5" font-size="19" text-anchor="middle">2.5</text><text x="622.2" y="993.5" font-size="19" text-anchor="middle">5</text><text x="675.9" y="993.5" font-size="19" text-anchor="middle">7.5</text><text x="729.6" y="993.5" font-size="19" text-anchor="middle">10</text><text x="783.2" y="993.5" font-size="19" text-anchor="middle">12.5</text><text x="836.9" y="993.5" font-size="19" text-anchor="middle">15</text><text x="890.6" y="993.5" font-size="19" text-anchor="middle">17.5</text><text x="944.3" y="993.5" font-size="19" text-anchor="middle">20</text><path d="M591 671.5l4.6 8.2h-9.2zM587.8 702.2l4.6 8.2h-9.2zM585.7 717.6l4.6 8.2h-9.2zM583.5 732.9l4.6 8.2h-9.2zM581.4 743.2l4.6 8.2h-9.2zM579.2 773.9l4.6 8.2h-9.2zM577.1 799.5l4.6 8.2h-9.2zM576 820l4.6 8.2h-9.2zM573.9 845.6l4.6 8.2h-9.2z" fill="none" stroke="#ec6a1e" stroke-width="1"/><path d="M618.4 672.9h7.6v7.6h-7.6zM614.1 688.3h7.6v7.6h-7.6zM608.7 708.7h7.6v7.6h-7.6zM604.4 744.6h7.6v7.6h-7.6zM601.2 759.9h7.6v7.6h-7.6zM598 790.7h7.6v7.6h-7.6zM593.7 811.1h7.6v7.6h-7.6zM591.5 836.7h7.6v7.6h-7.6zM588.3 857.2h7.6v7.6h-7.6z" fill="none" stroke="#f2b632" stroke-width="1"/><path d="M703.7 648.4L699.5 650.9L695.2 648.4L695.2 643.5L699.5 641.1L703.7 643.5zM688.7 674L684.5 676.5L680.2 674L680.2 669.1L684.5 666.7L688.7 669.1zM676.9 715L672.7 717.4L668.4 715L668.4 710.1L672.7 707.6L676.9 710.1zM665.1 756L660.8 758.4L656.6 756L656.6 751L660.8 748.6L665.1 751zM656.5 781.6L652.2 784L648 781.6L648 776.6L652.2 774.2L656.5 776.6zM647.9 812.3L643.7 814.7L639.4 812.3L639.4 807.4L643.7 804.9L647.9 807.4zM641.5 843L637.2 845.4L633 843L633 838.1L637.2 835.6L641.5 838.1zM635 873.7L630.8 876.2L626.5 873.7L626.5 868.8L630.8 866.4L635 868.8zM628.6 899.3L624.3 901.8L620.1 899.3L620.1 894.4L624.3 892L628.6 894.4z" fill="none" stroke="#3db54a" stroke-width="1"/><path d="M796.6 606.3h7.6v7.6h-7.6zM764.4 657.5h7.6v7.6h-7.6zM736.5 693.4h7.6v7.6h-7.6zM715 734.3h7.6v7.6h-7.6zM697.8 780.4h7.6v7.6h-7.6zM682.8 821.4h7.6v7.6h-7.6zM669.9 862.3h7.6v7.6h-7.6zM659.2 893.1h7.6v7.6h-7.6zM649.5 928.9h7.6v7.6h-7.6z" fill="#2b8fd6"/><path d="M579.2 711V747.4M575.6 736.4L579.2 747.4L582.8 736.4" fill="none" stroke="#ec6a1e" stroke-width="1.2"/><path d="M600.7 711V747.4M597.1 736.4L600.7 747.4L604.3 736.4" fill="none" stroke="#f2b632" stroke-width="1.2"/><path d="M643.7 711V747.4M640.1 736.4L643.7 747.4L647.3 736.4" fill="none" stroke="#3db54a" stroke-width="1.2"/><path d="M686.6 711V747.4M683 736.4L686.6 747.4L690.2 736.4" fill="none" stroke="#2b8fd6" stroke-width="1.2"/>
<rect x="982.3" y="538.7" width="429.4" height="429.9" fill="none" stroke="#000" stroke-width="1.6"/><path d="M993.1 968.6v-2.8 M993.1 538.7v2.8M1003.9 968.6v-2.8 M1003.9 538.7v2.8M1014.6 968.6v-4.4 M1014.6 538.7v4.4M1025.3 968.6v-2.8 M1025.3 538.7v2.8M1036.1 968.6v-2.8 M1036.1 538.7v2.8M1046.8 968.6v-2.8 M1046.8 538.7v2.8M1057.5 968.6v-2.8 M1057.5 538.7v2.8M1068.3 968.6v-4.4 M1068.3 538.7v4.4M1079 968.6v-2.8 M1079 538.7v2.8M1089.8 968.6v-2.8 M1089.8 538.7v2.8M1100.5 968.6v-2.8 M1100.5 538.7v2.8M1111.2 968.6v-2.8 M1111.2 538.7v2.8M1122 968.6v-4.4 M1122 538.7v4.4M1132.7 968.6v-2.8 M1132.7 538.7v2.8M1143.4 968.6v-2.8 M1143.4 538.7v2.8M1154.2 968.6v-2.8 M1154.2 538.7v2.8M1164.9 968.6v-2.8 M1164.9 538.7v2.8M1175.7 968.6v-4.4 M1175.7 538.7v4.4M1186.4 968.6v-2.8 M1186.4 538.7v2.8M1197.1 968.6v-2.8 M1197.1 538.7v2.8M1207.9 968.6v-2.8 M1207.9 538.7v2.8M1218.6 968.6v-2.8 M1218.6 538.7v2.8M1229.3 968.6v-4.4 M1229.3 538.7v4.4M1240.1 968.6v-2.8 M1240.1 538.7v2.8M1250.8 968.6v-2.8 M1250.8 538.7v2.8M1261.6 968.6v-2.8 M1261.6 538.7v2.8M1272.3 968.6v-2.8 M1272.3 538.7v2.8M1283 968.6v-4.4 M1283 538.7v4.4M1293.8 968.6v-2.8 M1293.8 538.7v2.8M1304.5 968.6v-2.8 M1304.5 538.7v2.8M1315.2 968.6v-2.8 M1315.2 538.7v2.8M1326 968.6v-2.8 M1326 538.7v2.8M1336.7 968.6v-4.4 M1336.7 538.7v4.4M1347.5 968.6v-2.8 M1347.5 538.7v2.8M1358.2 968.6v-2.8 M1358.2 538.7v2.8M1368.9 968.6v-2.8 M1368.9 538.7v2.8M1379.7 968.6v-2.8 M1379.7 538.7v2.8M1390.4 968.6v-4.4 M1390.4 538.7v4.4M1401.1 968.6v-2.8 M1401.1 538.7v2.8M982.3 958.3h4.4 M1411.7 958.3h-4.4M982.3 932.7h2.8 M1411.7 932.7h-2.8M982.3 907.1h2.8 M1411.7 907.1h-2.8M982.3 881.5h2.8 M1411.7 881.5h-2.8M982.3 855.9h4.4 M1411.7 855.9h-4.4M982.3 830.3h2.8 M1411.7 830.3h-2.8M982.3 804.7h2.8 M1411.7 804.7h-2.8M982.3 779.1h2.8 M1411.7 779.1h-2.8M982.3 753.5h4.4 M1411.7 753.5h-4.4M982.3 727.9h2.8 M1411.7 727.9h-2.8M982.3 702.3h2.8 M1411.7 702.3h-2.8M982.3 676.7h2.8 M1411.7 676.7h-2.8M982.3 651.1h4.4 M1411.7 651.1h-4.4M982.3 625.5h2.8 M1411.7 625.5h-2.8M982.3 599.9h2.8 M1411.7 599.9h-2.8M982.3 574.3h2.8 M1411.7 574.3h-2.8M982.3 548.7h4.4 M1411.7 548.7h-4.4" stroke="#000" stroke-width="1.2" fill="none"/><line x1="982.3" y1="753.5" x2="1411.7" y2="753.5" stroke="#000" stroke-width="1.4" stroke-dasharray="4 3.4"/><text x="1014.6" y="993.5" font-size="19" text-anchor="middle">2.5</text><text x="1068.3" y="993.5" font-size="19" text-anchor="middle">5</text><text x="1122" y="993.5" font-size="19" text-anchor="middle">7.5</text><text x="1175.7" y="993.5" font-size="19" text-anchor="middle">10</text><text x="1229.3" y="993.5" font-size="19" text-anchor="middle">12.5</text><text x="1283" y="993.5" font-size="19" text-anchor="middle">15</text><text x="1336.7" y="993.5" font-size="19" text-anchor="middle">17.5</text><text x="1390.4" y="993.5" font-size="19" text-anchor="middle">20</text><path d="M1036.9 681.7l4.6 8.2h-9.2zM1034.6 692l4.6 8.2h-9.2zM1031.6 722.7l4.6 8.2h-9.2zM1029.2 738.1l4.6 8.2h-9.2zM1027.5 758.5l4.6 8.2h-9.2zM1025.8 779l4.6 8.2h-9.2zM1023.4 799.5l4.6 8.2h-9.2zM1021.7 820l4.6 8.2h-9.2zM1020 840.5l4.6 8.2h-9.2z" fill="none" stroke="#ec6a1e" stroke-width="1"/><path d="M1064.3 662.7h7.6v7.6h-7.6zM1059.5 683.1h7.6v7.6h-7.6zM1054.8 713.9h7.6v7.6h-7.6zM1050.7 729.2h7.6v7.6h-7.6zM1046.7 759.9h7.6v7.6h-7.6zM1043 790.7h7.6v7.6h-7.6zM1039.6 816.3h7.6v7.6h-7.6zM1036.6 826.5h7.6v7.6h-7.6zM1033.8 862.3h7.6v7.6h-7.6z" fill="none" stroke="#f2b632" stroke-width="1"/><path d="M1149.2 638.2L1144.9 640.6L1140.7 638.2L1140.7 633.3L1144.9 630.8L1149.2 633.3zM1134.6 679.2L1130.3 681.6L1126.1 679.2L1126.1 674.2L1130.3 671.8L1134.6 674.2zM1122.1 709.9L1117.9 712.3L1113.6 709.9L1113.6 705L1117.9 702.5L1122.1 705zM1111.6 756L1107.4 758.4L1103.1 756L1103.1 751L1107.4 748.6L1111.6 751zM1102.2 781.6L1097.9 784L1093.7 781.6L1093.7 776.6L1097.9 774.2L1102.2 776.6zM1094 807.2L1089.8 809.6L1085.5 807.2L1085.5 802.2L1089.8 799.8L1094 802.2zM1086.3 843L1082 845.4L1077.8 843L1077.8 838.1L1082 835.6L1086.3 838.1zM1080.5 868.6L1076.2 871L1072 868.6L1072 863.7L1076.2 861.2L1080.5 863.7zM1074.7 904.4L1070.4 906.9L1066.2 904.4L1066.2 899.5L1070.4 897.1L1074.7 899.5z" fill="none" stroke="#3db54a" stroke-width="1"/><path d="M1390.4 586.3l3.9 3.9l-3.9 3.9l-3.9 -3.9zM1318.9 642.6l3.9 3.9l-3.9 3.9l-3.9 -3.9zM1267.8 684.1l3.9 3.9l-3.9 3.9l-3.9 -3.9zM1229.3 739.4l3.9 3.9l-3.9 3.9l-3.9 -3.9zM1199.5 790.6l3.9 3.9l-3.9 3.9l-3.9 -3.9zM1175.7 846.9l3.9 3.9l-3.9 3.9l-3.9 -3.9zM1156.1 882.7l3.9 3.9l-3.9 3.9l-3.9 -3.9zM1139.8 928.8l3.9 3.9l-3.9 3.9l-3.9 -3.9zM1126.1 959.5l3.9 3.9l-3.9 3.9l-3.9 -3.9z" fill="#1f4ea6"/><path d="M1025.3 711V747.4M1021.7 736.4L1025.3 747.4L1028.9 736.4" fill="none" stroke="#ec6a1e" stroke-width="1.2"/><path d="M1046.8 711V747.4M1043.2 736.4L1046.8 747.4L1050.4 736.4" fill="none" stroke="#f2b632" stroke-width="1.2"/><path d="M1089.8 711V747.4M1086.2 736.4L1089.8 747.4L1093.4 736.4" fill="none" stroke="#3db54a" stroke-width="1.2"/><path d="M1175.7 711V747.4M1172.1 736.4L1175.7 747.4L1179.3 736.4" fill="none" stroke="#1f4ea6" stroke-width="1.2"/>
<rect x="1428.5" y="538.7" width="429.4" height="429.9" fill="none" stroke="#000" stroke-width="1.6"/><path d="M1438.7 968.6v-2.8 M1438.7 538.7v2.8M1449.5 968.6v-2.8 M1449.5 538.7v2.8M1460.2 968.6v-4.4 M1460.2 538.7v4.4M1470.9 968.6v-2.8 M1470.9 538.7v2.8M1481.7 968.6v-2.8 M1481.7 538.7v2.8M1492.4 968.6v-2.8 M1492.4 538.7v2.8M1503.1 968.6v-2.8 M1503.1 538.7v2.8M1513.9 968.6v-4.4 M1513.9 538.7v4.4M1524.6 968.6v-2.8 M1524.6 538.7v2.8M1535.4 968.6v-2.8 M1535.4 538.7v2.8M1546.1 968.6v-2.8 M1546.1 538.7v2.8M1556.8 968.6v-2.8 M1556.8 538.7v2.8M1567.6 968.6v-4.4 M1567.6 538.7v4.4M1578.3 968.6v-2.8 M1578.3 538.7v2.8M1589 968.6v-2.8 M1589 538.7v2.8M1599.8 968.6v-2.8 M1599.8 538.7v2.8M1610.5 968.6v-2.8 M1610.5 538.7v2.8M1621.3 968.6v-4.4 M1621.3 538.7v4.4M1632 968.6v-2.8 M1632 538.7v2.8M1642.7 968.6v-2.8 M1642.7 538.7v2.8M1653.5 968.6v-2.8 M1653.5 538.7v2.8M1664.2 968.6v-2.8 M1664.2 538.7v2.8M1674.9 968.6v-4.4 M1674.9 538.7v4.4M1685.7 968.6v-2.8 M1685.7 538.7v2.8M1696.4 968.6v-2.8 M1696.4 538.7v2.8M1707.2 968.6v-2.8 M1707.2 538.7v2.8M1717.9 968.6v-2.8 M1717.9 538.7v2.8M1728.6 968.6v-4.4 M1728.6 538.7v4.4M1739.4 968.6v-2.8 M1739.4 538.7v2.8M1750.1 968.6v-2.8 M1750.1 538.7v2.8M1760.8 968.6v-2.8 M1760.8 538.7v2.8M1771.6 968.6v-2.8 M1771.6 538.7v2.8M1782.3 968.6v-4.4 M1782.3 538.7v4.4M1793.1 968.6v-2.8 M1793.1 538.7v2.8M1803.8 968.6v-2.8 M1803.8 538.7v2.8M1814.5 968.6v-2.8 M1814.5 538.7v2.8M1825.3 968.6v-2.8 M1825.3 538.7v2.8M1836 968.6v-4.4 M1836 538.7v4.4M1846.7 968.6v-2.8 M1846.7 538.7v2.8M1428.5 958.3h4.4 M1857.9 958.3h-4.4M1428.5 932.7h2.8 M1857.9 932.7h-2.8M1428.5 907.1h2.8 M1857.9 907.1h-2.8M1428.5 881.5h2.8 M1857.9 881.5h-2.8M1428.5 855.9h4.4 M1857.9 855.9h-4.4M1428.5 830.3h2.8 M1857.9 830.3h-2.8M1428.5 804.7h2.8 M1857.9 804.7h-2.8M1428.5 779.1h2.8 M1857.9 779.1h-2.8M1428.5 753.5h4.4 M1857.9 753.5h-4.4M1428.5 727.9h2.8 M1857.9 727.9h-2.8M1428.5 702.3h2.8 M1857.9 702.3h-2.8M1428.5 676.7h2.8 M1857.9 676.7h-2.8M1428.5 651.1h4.4 M1857.9 651.1h-4.4M1428.5 625.5h2.8 M1857.9 625.5h-2.8M1428.5 599.9h2.8 M1857.9 599.9h-2.8M1428.5 574.3h2.8 M1857.9 574.3h-2.8M1428.5 548.7h4.4 M1857.9 548.7h-4.4" stroke="#000" stroke-width="1.2" fill="none"/><line x1="1428.5" y1="753.5" x2="1857.9" y2="753.5" stroke="#000" stroke-width="1.4" stroke-dasharray="4 3.4"/><text x="1460.2" y="993.5" font-size="19" text-anchor="middle">2.5</text><text x="1513.9" y="993.5" font-size="19" text-anchor="middle">5</text><text x="1567.6" y="993.5" font-size="19" text-anchor="middle">7.5</text><text x="1621.3" y="993.5" font-size="19" text-anchor="middle">10</text><text x="1674.9" y="993.5" font-size="19" text-anchor="middle">12.5</text><text x="1728.6" y="993.5" font-size="19" text-anchor="middle">15</text><text x="1782.3" y="993.5" font-size="19" text-anchor="middle">17.5</text><text x="1836" y="993.5" font-size="19" text-anchor="middle">20</text><path d="M1482.5 753.4l4.6 8.2h-9.2zM1479.5 763.7l4.6 8.2h-9.2zM1477.2 773.9l4.6 8.2h-9.2zM1474.8 794.4l4.6 8.2h-9.2zM1473.1 825.1l4.6 8.2h-9.2zM1471.4 830.2l4.6 8.2h-9.2zM1469 850.7l4.6 8.2h-9.2zM1467.3 866.1l4.6 8.2h-9.2zM1465.6 896.8l4.6 8.2h-9.2z" fill="none" stroke="#ec6a1e" stroke-width="1"/><path d="M1510.1 719h7.6v7.6h-7.6zM1505.1 744.6h7.6v7.6h-7.6zM1500.4 754.8h7.6v7.6h-7.6zM1496.3 790.7h7.6v7.6h-7.6zM1492.3 811.1h7.6v7.6h-7.6zM1488.6 831.6h7.6v7.6h-7.6zM1485.2 852.1h7.6v7.6h-7.6zM1482.2 872.6h7.6v7.6h-7.6zM1479.4 903.3h7.6v7.6h-7.6z" fill="none" stroke="#f2b632" stroke-width="1"/><path d="M1594.8 689.4L1590.5 691.8L1586.3 689.4L1586.3 684.5L1590.5 682L1594.8 684.5zM1580.2 730.4L1575.9 732.8L1571.7 730.4L1571.7 725.4L1575.9 723L1580.2 725.4zM1567.7 761.1L1563.5 763.5L1559.2 761.1L1559.2 756.2L1563.5 753.7L1567.7 756.2zM1557.2 791.8L1553 794.2L1548.7 791.8L1548.7 786.9L1553 784.4L1557.2 786.9zM1547.8 817.4L1543.5 819.8L1539.3 817.4L1539.3 812.5L1543.5 810L1547.8 812.5zM1539.6 843L1535.4 845.4L1531.1 843L1531.1 838.1L1535.4 835.6L1539.6 838.1zM1532.5 873.7L1528.3 876.2L1524 873.7L1524 868.8L1528.3 866.4L1532.5 868.8zM1526.1 899.3L1521.8 901.8L1517.6 899.3L1517.6 894.4L1521.8 892L1526.1 894.4zM1520.3 924.9L1516 927.4L1511.8 924.9L1511.8 920L1516 917.6L1520.3 920z" fill="none" stroke="#3db54a" stroke-width="1"/><path d="M1836 616.5l3.9 3.9l-3.9 3.9l-3.9 -3.9zM1764.5 672.8l3.9 3.9l-3.9 3.9l-3.9 -3.9zM1713.4 729.1l3.9 3.9l-3.9 3.9l-3.9 -3.9zM1674.9 770.1l3.9 3.9l-3.9 3.9l-3.9 -3.9zM1645.1 811l3.9 3.9l-3.9 3.9l-3.9 -3.9zM1621.3 867.4l3.9 3.9l-3.9 3.9l-3.9 -3.9zM1601.7 898.1l3.9 3.9l-3.9 3.9l-3.9 -3.9zM1585.4 944.2l3.9 3.9l-3.9 3.9l-3.9 -3.9z" fill="#1f4ea6"/><path d="M1470.9 711V747.4M1467.3 736.4L1470.9 747.4L1474.5 736.4" fill="none" stroke="#ec6a1e" stroke-width="1.2"/><path d="M1492.4 711V747.4M1488.8 736.4L1492.4 747.4L1496 736.4" fill="none" stroke="#f2b632" stroke-width="1.2"/><path d="M1535.4 711V747.4M1531.8 736.4L1535.4 747.4L1539 736.4" fill="none" stroke="#3db54a" stroke-width="1.2"/><path d="M1621.3 711V747.4M1617.7 736.4L1621.3 747.4L1624.9 736.4" fill="none" stroke="#1f4ea6" stroke-width="1.2"/>
<rect x="1874.1" y="538.7" width="429.4" height="429.9" fill="none" stroke="#000" stroke-width="1.6"/><path d="M1885 968.6v-2.8 M1885 538.7v2.8M1895.8 968.6v-2.8 M1895.8 538.7v2.8M1906.5 968.6v-4.4 M1906.5 538.7v4.4M1917.2 968.6v-2.8 M1917.2 538.7v2.8M1928 968.6v-2.8 M1928 538.7v2.8M1938.7 968.6v-2.8 M1938.7 538.7v2.8M1949.4 968.6v-2.8 M1949.4 538.7v2.8M1960.2 968.6v-4.4 M1960.2 538.7v4.4M1970.9 968.6v-2.8 M1970.9 538.7v2.8M1981.7 968.6v-2.8 M1981.7 538.7v2.8M1992.4 968.6v-2.8 M1992.4 538.7v2.8M2003.1 968.6v-2.8 M2003.1 538.7v2.8M2013.9 968.6v-4.4 M2013.9 538.7v4.4M2024.6 968.6v-2.8 M2024.6 538.7v2.8M2035.3 968.6v-2.8 M2035.3 538.7v2.8M2046.1 968.6v-2.8 M2046.1 538.7v2.8M2056.8 968.6v-2.8 M2056.8 538.7v2.8M2067.6 968.6v-4.4 M2067.6 538.7v4.4M2078.3 968.6v-2.8 M2078.3 538.7v2.8M2089 968.6v-2.8 M2089 538.7v2.8M2099.8 968.6v-2.8 M2099.8 538.7v2.8M2110.5 968.6v-2.8 M2110.5 538.7v2.8M2121.2 968.6v-4.4 M2121.2 538.7v4.4M2132 968.6v-2.8 M2132 538.7v2.8M2142.7 968.6v-2.8 M2142.7 538.7v2.8M2153.5 968.6v-2.8 M2153.5 538.7v2.8M2164.2 968.6v-2.8 M2164.2 538.7v2.8M2174.9 968.6v-4.4 M2174.9 538.7v4.4M2185.7 968.6v-2.8 M2185.7 538.7v2.8M2196.4 968.6v-2.8 M2196.4 538.7v2.8M2207.1 968.6v-2.8 M2207.1 538.7v2.8M2217.9 968.6v-2.8 M2217.9 538.7v2.8M2228.6 968.6v-4.4 M2228.6 538.7v4.4M2239.4 968.6v-2.8 M2239.4 538.7v2.8M2250.1 968.6v-2.8 M2250.1 538.7v2.8M2260.8 968.6v-2.8 M2260.8 538.7v2.8M2271.6 968.6v-2.8 M2271.6 538.7v2.8M2282.3 968.6v-4.4 M2282.3 538.7v4.4M2293 968.6v-2.8 M2293 538.7v2.8M1874.1 958.3h4.4 M2303.5 958.3h-4.4M1874.1 932.7h2.8 M2303.5 932.7h-2.8M1874.1 907.1h2.8 M2303.5 907.1h-2.8M1874.1 881.5h2.8 M2303.5 881.5h-2.8M1874.1 855.9h4.4 M2303.5 855.9h-4.4M1874.1 830.3h2.8 M2303.5 830.3h-2.8M1874.1 804.7h2.8 M2303.5 804.7h-2.8M1874.1 779.1h2.8 M2303.5 779.1h-2.8M1874.1 753.5h4.4 M2303.5 753.5h-4.4M1874.1 727.9h2.8 M2303.5 727.9h-2.8M1874.1 702.3h2.8 M2303.5 702.3h-2.8M1874.1 676.7h2.8 M2303.5 676.7h-2.8M1874.1 651.1h4.4 M2303.5 651.1h-4.4M1874.1 625.5h2.8 M2303.5 625.5h-2.8M1874.1 599.9h2.8 M2303.5 599.9h-2.8M1874.1 574.3h2.8 M2303.5 574.3h-2.8M1874.1 548.7h4.4 M2303.5 548.7h-4.4" stroke="#000" stroke-width="1.2" fill="none"/><line x1="1874.1" y1="753.5" x2="2303.5" y2="753.5" stroke="#000" stroke-width="1.4" stroke-dasharray="4 3.4"/><text x="1906.5" y="993.5" font-size="19" text-anchor="middle">2.5</text><text x="1960.2" y="993.5" font-size="19" text-anchor="middle">5</text><text x="2013.9" y="993.5" font-size="19" text-anchor="middle">7.5</text><text x="2067.6" y="993.5" font-size="19" text-anchor="middle">10</text><text x="2121.2" y="993.5" font-size="19" text-anchor="middle">12.5</text><text x="2174.9" y="993.5" font-size="19" text-anchor="middle">15</text><text x="2228.6" y="993.5" font-size="19" text-anchor="middle">17.5</text><text x="2282.3" y="993.5" font-size="19" text-anchor="middle">20</text><path d="M1895.3 692.1h10M1900.3 687.1v10M1894 707.4h10M1899 702.4v10M1892.9 717.7h10M1897.9 712.7v10M1892.1 727.9h10M1897.1 722.9v10M1891.2 738.1h10M1896.2 733.1v10M1890.3 748.4h10M1895.3 743.4v10M1889.3 758.6h10M1894.3 753.6v10M1888.4 774h10M1893.4 769v10" fill="none" stroke="#e8311c" stroke-width="1"/><path d="M1956.2 739.5h7.6v7.6h-7.6zM1951 759.9h7.6v7.6h-7.6zM1946.3 780.4h7.6v7.6h-7.6zM1941.8 795.8h7.6v7.6h-7.6zM1938.3 811.1h7.6v7.6h-7.6zM1934.5 831.6h7.6v7.6h-7.6zM1931.3 847h7.6v7.6h-7.6zM1928.5 862.3h7.6v7.6h-7.6zM1925.5 877.7h7.6v7.6h-7.6z" fill="none" stroke="#f2b632" stroke-width="1"/><path d="M2040.7 740.6L2036.4 743L2032.2 740.6L2032.2 735.7L2036.4 733.2L2040.7 735.7zM2026.5 766.2L2022.2 768.6L2018 766.2L2018 761.3L2022.2 758.8L2026.5 761.3zM2013.6 791.8L2009.4 794.2L2005.1 791.8L2005.1 786.9L2009.4 784.4L2013.6 786.9zM2003.3 817.4L1999.1 819.8L1994.8 817.4L1994.8 812.5L1999.1 810L2003.3 812.5zM1993.8 837.9L1989.6 840.3L1985.4 837.9L1985.4 833L1989.6 830.5L1993.8 833zM1985.5 858.4L1981.2 860.8L1977 858.4L1977 853.4L1981.2 851L1985.5 853.4zM1978.4 884L1974.1 886.4L1969.9 884L1969.9 879L1974.1 876.6L1978.4 879zM1971.5 904.4L1967.3 906.9L1963 904.4L1963 899.5L1967.3 897.1L1971.5 899.5zM1965.9 930L1961.7 932.5L1957.4 930L1957.4 925.1L1961.7 922.7L1965.9 925.1z" fill="none" stroke="#3db54a" stroke-width="1"/><path d="M2282.3 677.9l3.9 3.9l-3.9 3.9l-3.9 -3.9zM2210.8 734.2l3.9 3.9l-3.9 3.9l-3.9 -3.9zM2159.7 765l3.9 3.9l-3.9 3.9l-3.9 -3.9zM2121.2 816.2l3.9 3.9l-3.9 3.9l-3.9 -3.9zM2091.4 836.6l3.9 3.9l-3.9 3.9l-3.9 -3.9zM2067.6 877.6l3.9 3.9l-3.9 3.9l-3.9 -3.9zM2048 913.4l3.9 3.9l-3.9 3.9l-3.9 -3.9zM2031.7 944.2l3.9 3.9l-3.9 3.9l-3.9 -3.9z" fill="#1f4ea6"/><path d="M1938.7 711V747.4M1935.1 736.4L1938.7 747.4L1942.3 736.4" fill="none" stroke="#f2b632" stroke-width="1.2"/><path d="M1981.7 711V747.4M1978.1 736.4L1981.7 747.4L1985.3 736.4" fill="none" stroke="#3db54a" stroke-width="1.2"/><path d="M2067.6 711V747.4M2064 736.4L2067.6 747.4L2071.2 736.4" fill="none" stroke="#1f4ea6" stroke-width="1.2"/><path d="M1895.3 794.5V758.6M1891.7 769.6L1895.3 758.6L1898.9 769.6" fill="none" stroke="#e8311c" stroke-width="1.2"/>
<text transform="translate(21.5,861) rotate(-90)" font-size="25.5" textLength="195" lengthAdjust="spacingAndGlyphs">fixation probability</text>
<text transform="translate(21.5,653) rotate(-90)" font-size="28" class="sf">ρ</text>
<text x="196.5" y="1154" font-size="40"><tspan font-weight="bold">Action</tspan>: cooperate, defect or punish</text>
<path d="M478.7 1193 L555.3 1193 C612.7 1195.5 670.1 1224.2 698.2 1272.7 L740.3 1272.7 L679.7 1314.2 L600.9 1272.7 L641.4 1272.7 C615.9 1230.6 574.4 1205.1 520.2 1196.5 Z" fill="#bfbfbf"/>
<path d="M334.5 1314.2 C338.3 1249.8 402.1 1193 491.4 1193 L523.4 1193 L520.2 1196.5 C450 1205.1 392.5 1253 390.3 1314.2 Z" fill="#a0a0a0" stroke="#bdbdbd" stroke-width="2.4" stroke-linejoin="round"/>
<ellipse cx="412.5" cy="1421.3" rx="68" ry="20" fill="#848283" transform="rotate(-17 412.5 1421.3)"/>
<ellipse cx="745" cy="1421.3" rx="68" ry="20" fill="#848283" transform="rotate(-17 745 1421.3)"/>
<ellipse cx="284.4" cy="1721.1" rx="68" ry="20" fill="#848283" transform="rotate(-17 284.4 1721.1)"/>
<ellipse cx="745" cy="1751.6" rx="68" ry="20" fill="#848283" transform="rotate(-17 745 1751.6)"/>
<ellipse cx="460.1" cy="1841.2" rx="68" ry="20" fill="#848283" transform="rotate(-17 460.1 1841.2)"/>
<ellipse cx="326.9" cy="1871.6" rx="68" ry="20" fill="#848283" transform="rotate(-17 326.9 1871.6)"/>
<ellipse cx="595.1" cy="1871.6" rx="68" ry="20" fill="#848283" transform="rotate(-17 595.1 1871.6)"/>
<ellipse cx="745" cy="1886.5" rx="68" ry="20" fill="#848283" transform="rotate(-17 745 1886.5)"/>
<circle cx="362.5" cy="1395.3" r="52.5" fill="#e62d19"/>
<circle cx="695" cy="1395.3" r="52.5" fill="#3e4799"/>
<circle cx="234.4" cy="1695.1" r="52.5" fill="#c5e2e5"/>
<circle cx="695" cy="1725.6" r="52.5" fill="#c5e2e5"/>
<circle cx="410.1" cy="1815.2" r="52.5" fill="#c5e2e5"/>
<circle cx="276.9" cy="1845.6" r="52.5" fill="#c5e2e5"/>
<circle cx="545.1" cy="1845.6" r="52.5" fill="#c5e2e5"/>
<circle cx="695" cy="1860.5" r="52.5" fill="#c5e2e5"/>
<text x="305" y="1503" font-size="40" fill="#e62d19" font-weight="bold">Donor</text>
<text x="599.5" y="1503" font-size="40" fill="#3e4799" font-weight="bold">Recipient</text>
<text x="598" y="1551.5" font-size="40" fill="#3e4799">has a good or</text>
<text x="598" y="1598.5" font-size="40" fill="#3e4799">bad reputation</text>
<line x1="295.3" y1="1530.3" x2="259.2" y2="1610.1" stroke="#e62d19" stroke-width="2.6" stroke-dasharray="2.6 3"/>
<path d="M251.4 1627.5L250.5 1606.2L268 1614.1Z" fill="#e62d19"/>
<line x1="332" y1="1528" x2="296.2" y2="1759.9" stroke="#e62d19" stroke-width="2.6" stroke-dasharray="2.6 3"/>
<path d="M293.2 1778.7L286.7 1758.4L305.6 1761.4Z" fill="#e62d19"/>
<line x1="364.8" y1="1535.5" x2="382.2" y2="1722.4" stroke="#e62d19" stroke-width="2.6" stroke-dasharray="2.6 3"/>
<path d="M383.9 1741.3L372.6 1723.3L391.7 1721.5Z" fill="#e62d19"/>
<line x1="394.1" y1="1525.1" x2="515.2" y2="1747.4" stroke="#e62d19" stroke-width="2.6" stroke-dasharray="2.6 3"/>
<path d="M524.3 1764.1L506.7 1752L523.6 1742.8Z" fill="#e62d19"/>
<line x1="418.8" y1="1519.4" x2="612.2" y2="1768.4" stroke="#e62d19" stroke-width="2.6" stroke-dasharray="2.6 3"/>
<path d="M623.9 1783.4L604.6 1774.3L619.8 1762.5Z" fill="#e62d19"/>
<line x1="446.9" y1="1507.9" x2="613.7" y2="1663.4" stroke="#e62d19" stroke-width="2.6" stroke-dasharray="2.6 3"/>
<path d="M627.6 1676.4L607.1 1670.5L620.2 1656.4Z" fill="#e62d19"/>
<text x="196.5" y="1979" font-size="40" font-weight="bold">Observers</text>
<text x="196.5" y="2028" font-size="40">update the reputation of the donor</text>
<text x="196.5" y="2076.5" font-size="40">with errors in perception and gossip</text>
<rect x="1204.5" y="1200" width="303.3" height="202.2" fill="#342a8c"/>
<rect x="1204.5" y="1402.2" width="303.3" height="100" fill="#e51521"/>
<path d="M1206.3 1402.2Q1270 1433.8 1335.5 1443.6L1395.8 1402.2Z" fill="#f9e014"/>
<line x1="1204.5" y1="1402.2" x2="1507.8" y2="1402.2" stroke="#000" stroke-width="2.4"/>
<rect x="1204.5" y="1200" width="303.3" height="302.2" fill="none" stroke="#000" stroke-width="1.2"/>
<path d="M1204.5 1502.2v-4 M1204.5 1200v4 M1216.6 1502.2v-2.4 M1216.6 1200v2.4 M1228.8 1502.2v-2.4 M1228.8 1200v2.4 M1240.9 1502.2v-2.4 M1240.9 1200v2.4 M1253 1502.2v-2.4 M1253 1200v2.4 M1265.2 1502.2v-4 M1265.2 1200v4 M1277.3 1502.2v-2.4 M1277.3 1200v2.4 M1289.4 1502.2v-2.4 M1289.4 1200v2.4 M1301.6 1502.2v-2.4 M1301.6 1200v2.4 M1313.7 1502.2v-2.4 M1313.7 1200v2.4 M1325.8 1502.2v-4 M1325.8 1200v4 M1338 1502.2v-2.4 M1338 1200v2.4 M1350.1 1502.2v-2.4 M1350.1 1200v2.4 M1362.2 1502.2v-2.4 M1362.2 1200v2.4 M1374.3 1502.2v-2.4 M1374.3 1200v2.4 M1386.5 1502.2v-4 M1386.5 1200v4 M1398.6 1502.2v-2.4 M1398.6 1200v2.4 M1410.7 1502.2v-2.4 M1410.7 1200v2.4 M1422.9 1502.2v-2.4 M1422.9 1200v2.4 M1435 1502.2v-2.4 M1435 1200v2.4 M1447.1 1502.2v-4 M1447.1 1200v4 M1459.3 1502.2v-2.4 M1459.3 1200v2.4 M1471.4 1502.2v-2.4 M1471.4 1200v2.4 M1483.5 1502.2v-2.4 M1483.5 1200v2.4 M1495.7 1502.2v-2.4 M1495.7 1200v2.4 M1507.8 1502.2v-4 M1507.8 1200v4 M1204.5 1502.2h4 M1507.8 1502.2h-4 M1204.5 1487.1h2.4 M1507.8 1487.1h-2.4 M1204.5 1472h2.4 M1507.8 1472h-2.4 M1204.5 1456.9h2.4 M1507.8 1456.9h-2.4 M1204.5 1441.8h4 M1507.8 1441.8h-4 M1204.5 1426.7h2.4 M1507.8 1426.7h-2.4 M1204.5 1411.5h2.4 M1507.8 1411.5h-2.4 M1204.5 1396.4h2.4 M1507.8 1396.4h-2.4 M1204.5 1381.3h4 M1507.8 1381.3h-4 M1204.5 1366.2h2.4 M1507.8 1366.2h-2.4 M1204.5 1351.1h2.4 M1507.8 1351.1h-2.4 M1204.5 1336h2.4 M1507.8 1336h-2.4 M1204.5 1320.9h4 M1507.8 1320.9h-4 M1204.5 1305.8h2.4 M1507.8 1305.8h-2.4 M1204.5 1290.7h2.4 M1507.8 1290.7h-2.4 M1204.5 1275.5h2.4 M1507.8 1275.5h-2.4 M1204.5 1260.4h4 M1507.8 1260.4h-4 M1204.5 1245.3h2.4 M1507.8 1245.3h-2.4 M1204.5 1230.2h2.4 M1507.8 1230.2h-2.4 M1204.5 1215.1h2.4 M1507.8 1215.1h-2.4 M1204.5 1200h4 M1507.8 1200h-4 " stroke="#000" stroke-width="1" fill="none"/>
<text x="1204.5" y="1525.7" font-size="18.5" text-anchor="middle">0</text>
<text x="1265.2" y="1525.7" font-size="18.5" text-anchor="middle">1</text>
<text x="1325.8" y="1525.7" font-size="18.5" text-anchor="middle">2</text>
<text x="1386.5" y="1525.7" font-size="18.5" text-anchor="middle">3</text>
<text x="1447.1" y="1525.7" font-size="18.5" text-anchor="middle">4</text>
<text x="1507.8" y="1525.7" font-size="18.5" text-anchor="middle">5</text>
<text x="1200.5" y="1508.7" font-size="18.5" text-anchor="end">0.0</text>
<text x="1200.5" y="1448.3" font-size="18.5" text-anchor="end">0.2</text>
<text x="1200.5" y="1387.8" font-size="18.5" text-anchor="end">0.4</text>
<text x="1200.5" y="1327.4" font-size="18.5" text-anchor="end">0.6</text>
<text x="1200.5" y="1266.9" font-size="18.5" text-anchor="end">0.8</text>
<text x="1200.5" y="1206.5" font-size="18.5" text-anchor="end">1.0</text>
<text x="1356.2" y="1186" font-size="33" text-anchor="middle"><tspan font-style="italic">b</tspan>=3, <tspan class="sf">α</tspan>=0.8</text>
<text x="1356.2" y="1322" font-size="47" text-anchor="middle" fill="#fff">CD</text>
<text x="1411.2" y="1480" font-size="47" text-anchor="middle" fill="#fff">DD</text>
<text x="1325.7" y="1434.4" font-size="27" text-anchor="middle">CP</text>
<text x="1358.2" y="1563" font-size="38" text-anchor="middle" class="sf">β</text>
<text transform="translate(1159.5,1346.1) rotate(-90)" font-size="36" font-style="italic" text-anchor="middle">q</text>
<rect x="1644.5" y="1201.2" width="306.7" height="203.3" fill="#342a8c"/>
<rect x="1644.5" y="1404.5" width="306.7" height="102.3" fill="#e51521"/>
<path d="M1683 1404.5Q1726 1426.9 1769.1 1433.3L1812.2 1404.5Z" fill="#f9e014"/>
<line x1="1644.5" y1="1404.5" x2="1951.2" y2="1404.5" stroke="#000" stroke-width="2.4"/>
<rect x="1644.5" y="1201.2" width="306.7" height="305.6" fill="none" stroke="#000" stroke-width="1.2"/>
<path d="M1644.5 1506.8v-4 M1644.5 1201.2v4 M1656.8 1506.8v-2.4 M1656.8 1201.2v2.4 M1669 1506.8v-2.4 M1669 1201.2v2.4 M1681.3 1506.8v-2.4 M1681.3 1201.2v2.4 M1693.6 1506.8v-2.4 M1693.6 1201.2v2.4 M1705.8 1506.8v-4 M1705.8 1201.2v4 M1718.1 1506.8v-2.4 M1718.1 1201.2v2.4 M1730.4 1506.8v-2.4 M1730.4 1201.2v2.4 M1742.6 1506.8v-2.4 M1742.6 1201.2v2.4 M1754.9 1506.8v-2.4 M1754.9 1201.2v2.4 M1767.2 1506.8v-4 M1767.2 1201.2v4 M1779.4 1506.8v-2.4 M1779.4 1201.2v2.4 M1791.7 1506.8v-2.4 M1791.7 1201.2v2.4 M1804 1506.8v-2.4 M1804 1201.2v2.4 M1816.3 1506.8v-2.4 M1816.3 1201.2v2.4 M1828.5 1506.8v-4 M1828.5 1201.2v4 M1840.8 1506.8v-2.4 M1840.8 1201.2v2.4 M1853.1 1506.8v-2.4 M1853.1 1201.2v2.4 M1865.3 1506.8v-2.4 M1865.3 1201.2v2.4 M1877.6 1506.8v-2.4 M1877.6 1201.2v2.4 M1889.9 1506.8v-4 M1889.9 1201.2v4 M1902.1 1506.8v-2.4 M1902.1 1201.2v2.4 M1914.4 1506.8v-2.4 M1914.4 1201.2v2.4 M1926.7 1506.8v-2.4 M1926.7 1201.2v2.4 M1938.9 1506.8v-2.4 M1938.9 1201.2v2.4 M1951.2 1506.8v-4 M1951.2 1201.2v4 M1644.5 1506.8h4 M1951.2 1506.8h-4 M1644.5 1491.5h2.4 M1951.2 1491.5h-2.4 M1644.5 1476.2h2.4 M1951.2 1476.2h-2.4 M1644.5 1461h2.4 M1951.2 1461h-2.4 M1644.5 1445.7h4 M1951.2 1445.7h-4 M1644.5 1430.4h2.4 M1951.2 1430.4h-2.4 M1644.5 1415.1h2.4 M1951.2 1415.1h-2.4 M1644.5 1399.8h2.4 M1951.2 1399.8h-2.4 M1644.5 1384.6h4 M1951.2 1384.6h-4 M1644.5 1369.3h2.4 M1951.2 1369.3h-2.4 M1644.5 1354h2.4 M1951.2 1354h-2.4 M1644.5 1338.7h2.4 M1951.2 1338.7h-2.4 M1644.5 1323.4h4 M1951.2 1323.4h-4 M1644.5 1308.2h2.4 M1951.2 1308.2h-2.4 M1644.5 1292.9h2.4 M1951.2 1292.9h-2.4 M1644.5 1277.6h2.4 M1951.2 1277.6h-2.4 M1644.5 1262.3h4 M1951.2 1262.3h-4 M1644.5 1247h2.4 M1951.2 1247h-2.4 M1644.5 1231.8h2.4 M1951.2 1231.8h-2.4 M1644.5 1216.5h2.4 M1951.2 1216.5h-2.4 M1644.5 1201.2h4 M1951.2 1201.2h-4 " stroke="#000" stroke-width="1" fill="none"/>
<text x="1644.5" y="1530.3" font-size="18.5" text-anchor="middle">0</text>
<text x="1705.8" y="1530.3" font-size="18.5" text-anchor="middle">1</text>
<text x="1767.2" y="1530.3" font-size="18.5" text-anchor="middle">2</text>
<text x="1828.5" y="1530.3" font-size="18.5" text-anchor="middle">3</text>
<text x="1889.9" y="1530.3" font-size="18.5" text-anchor="middle">4</text>
<text x="1951.2" y="1530.3" font-size="18.5" text-anchor="middle">5</text>
<text x="1640.5" y="1513.3" font-size="18.5" text-anchor="end">0.0</text>
<text x="1640.5" y="1452.2" font-size="18.5" text-anchor="end">0.2</text>
<text x="1640.5" y="1391.1" font-size="18.5" text-anchor="end">0.4</text>
<text x="1640.5" y="1329.9" font-size="18.5" text-anchor="end">0.6</text>
<text x="1640.5" y="1268.8" font-size="18.5" text-anchor="end">0.8</text>
<text x="1640.5" y="1207.7" font-size="18.5" text-anchor="end">1.0</text>
<text x="1797.8" y="1186" font-size="33" text-anchor="middle"><tspan font-style="italic">b</tspan>=3, <tspan class="sf">α</tspan>=1.2</text>
<text x="1797.8" y="1322" font-size="47" text-anchor="middle" fill="#fff">CD</text>
<text x="1852.8" y="1480" font-size="47" text-anchor="middle" fill="#fff">DD</text>
<text x="1768" y="1427.6" font-size="21" text-anchor="middle">CP</text>
<text x="1799.8" y="1563" font-size="38" text-anchor="middle" class="sf">β</text>
<text transform="translate(1599.5,1349) rotate(-90)" font-size="36" font-style="italic" text-anchor="middle">q</text>
<rect x="1204.5" y="1651.5" width="303.3" height="302.1" fill="#e51521"/>
<path d="M1265.2 1651.5L1268.2 1665.9L1271.2 1679L1274.3 1690.9L1277.3 1701.8L1280.3 1711.9L1283.4 1721.2L1286.4 1729.8L1289.4 1737.8L1292.5 1745.3L1295.5 1752.2L1298.5 1758.7L1301.6 1764.8L1304.6 1770.5L1307.6 1775.9L1310.7 1781L1313.7 1785.8L1316.7 1790.3L1319.8 1794.6L1322.8 1798.7L1325.8 1802.5L1328.9 1806.2L1331.9 1809.7L1334.9 1813.1L1338 1816.3L1341 1819.3L1344 1822.3L1347.1 1825L1350.1 1827.7L1353.1 1830.3L1356.2 1832.8L1359.2 1835.1L1362.2 1837.4L1365.2 1839.6L1368.3 1841.7L1371.3 1843.7L1374.3 1845.7L1377.4 1847.6L1380.4 1849.4L1383.4 1851.2L1386.5 1852.9L1389.5 1854.6L1392.5 1856.1L1395.6 1857.7L1398.6 1859.2L1401.6 1860.6L1404.7 1862.1L1407.7 1863.4L1410.7 1864.7L1413.8 1866L1416.8 1867.3L1419.8 1868.5L1422.9 1869.7L1425.9 1870.8L1428.9 1872L1432 1873L1435 1874.1L1438 1875.1L1441.1 1876.1L1444.1 1877.1L1447.1 1878.1L1450.2 1879L1453.2 1879.9L1456.2 1880.8L1459.3 1881.7L1462.3 1882.5L1465.3 1883.3L1468.4 1884.2L1471.4 1884.9L1474.4 1885.7L1477.5 1886.5L1480.5 1887.2L1483.5 1887.9L1486.6 1888.6L1489.6 1889.3L1492.6 1890L1495.7 1890.7L1498.7 1891.3L1501.7 1891.9L1504.8 1892.6L1507.8 1893.2L1507.8 1651.5Z" fill="#342a8c"/>
<path d="M1376.2 1846.9L1382.7 1850.8L1389.3 1854.5L1395.9 1857.9L1402.5 1861L1409.1 1864L1415.7 1866.8L1422.2 1869.4L1428.8 1871.9L1435.4 1874.2L1442 1876.4L1448.6 1878.5L1455.1 1880.5L1461.7 1882.4L1468.3 1884.1L1474.9 1885.8L1481.5 1887.4L1488.1 1889L1494.6 1890.4L1501.2 1891.8L1507.8 1893.2L1507.8 1915.8Q1472.3 1914.3 1436.8 1908.9Z" fill="#f9e014"/>
<rect x="1204.5" y="1651.5" width="303.3" height="302.1" fill="none" stroke="#000" stroke-width="1.2"/>
<path d="M1204.5 1953.6v-4 M1204.5 1651.5v4 M1216.6 1953.6v-2.4 M1216.6 1651.5v2.4 M1228.8 1953.6v-2.4 M1228.8 1651.5v2.4 M1240.9 1953.6v-2.4 M1240.9 1651.5v2.4 M1253 1953.6v-2.4 M1253 1651.5v2.4 M1265.2 1953.6v-4 M1265.2 1651.5v4 M1277.3 1953.6v-2.4 M1277.3 1651.5v2.4 M1289.4 1953.6v-2.4 M1289.4 1651.5v2.4 M1301.6 1953.6v-2.4 M1301.6 1651.5v2.4 M1313.7 1953.6v-2.4 M1313.7 1651.5v2.4 M1325.8 1953.6v-4 M1325.8 1651.5v4 M1338 1953.6v-2.4 M1338 1651.5v2.4 M1350.1 1953.6v-2.4 M1350.1 1651.5v2.4 M1362.2 1953.6v-2.4 M1362.2 1651.5v2.4 M1374.3 1953.6v-2.4 M1374.3 1651.5v2.4 M1386.5 1953.6v-4 M1386.5 1651.5v4 M1398.6 1953.6v-2.4 M1398.6 1651.5v2.4 M1410.7 1953.6v-2.4 M1410.7 1651.5v2.4 M1422.9 1953.6v-2.4 M1422.9 1651.5v2.4 M1435 1953.6v-2.4 M1435 1651.5v2.4 M1447.1 1953.6v-4 M1447.1 1651.5v4 M1459.3 1953.6v-2.4 M1459.3 1651.5v2.4 M1471.4 1953.6v-2.4 M1471.4 1651.5v2.4 M1483.5 1953.6v-2.4 M1483.5 1651.5v2.4 M1495.7 1953.6v-2.4 M1495.7 1651.5v2.4 M1507.8 1953.6v-4 M1507.8 1651.5v4 M1204.5 1953.6h4 M1507.8 1953.6h-4 M1204.5 1938.5h2.4 M1507.8 1938.5h-2.4 M1204.5 1923.4h2.4 M1507.8 1923.4h-2.4 M1204.5 1908.3h2.4 M1507.8 1908.3h-2.4 M1204.5 1893.2h4 M1507.8 1893.2h-4 M1204.5 1878.1h2.4 M1507.8 1878.1h-2.4 M1204.5 1863h2.4 M1507.8 1863h-2.4 M1204.5 1847.9h2.4 M1507.8 1847.9h-2.4 M1204.5 1832.8h4 M1507.8 1832.8h-4 M1204.5 1817.7h2.4 M1507.8 1817.7h-2.4 M1204.5 1802.5h2.4 M1507.8 1802.5h-2.4 M1204.5 1787.4h2.4 M1507.8 1787.4h-2.4 M1204.5 1772.3h4 M1507.8 1772.3h-4 M1204.5 1757.2h2.4 M1507.8 1757.2h-2.4 M1204.5 1742.1h2.4 M1507.8 1742.1h-2.4 M1204.5 1727h2.4 M1507.8 1727h-2.4 M1204.5 1711.9h4 M1507.8 1711.9h-4 M1204.5 1696.8h2.4 M1507.8 1696.8h-2.4 M1204.5 1681.7h2.4 M1507.8 1681.7h-2.4 M1204.5 1666.6h2.4 M1507.8 1666.6h-2.4 M1204.5 1651.5h4 M1507.8 1651.5h-4 " stroke="#000" stroke-width="1" fill="none"/>
<text x="1204.5" y="1977.1" font-size="18.5" text-anchor="middle">0</text>
<text x="1265.2" y="1977.1" font-size="18.5" text-anchor="middle">1</text>
<text x="1325.8" y="1977.1" font-size="18.5" text-anchor="middle">2</text>
<text x="1386.5" y="1977.1" font-size="18.5" text-anchor="middle">3</text>
<text x="1447.1" y="1977.1" font-size="18.5" text-anchor="middle">4</text>
<text x="1507.8" y="1977.1" font-size="18.5" text-anchor="middle">5</text>
<text x="1200.5" y="1960.1" font-size="18.5" text-anchor="end">0.0</text>
<text x="1200.5" y="1899.7" font-size="18.5" text-anchor="end">0.2</text>
<text x="1200.5" y="1839.3" font-size="18.5" text-anchor="end">0.4</text>
<text x="1200.5" y="1778.8" font-size="18.5" text-anchor="end">0.6</text>
<text x="1200.5" y="1718.4" font-size="18.5" text-anchor="end">0.8</text>
<text x="1200.5" y="1658" font-size="18.5" text-anchor="end">1.0</text>
<text x="1356.2" y="1637" font-size="33" text-anchor="middle"><tspan class="sf">β</tspan>=3, <tspan class="sf">α</tspan>=0.8</text>
<text x="1416.5" y="1759.2" font-size="47" text-anchor="middle" fill="#fff">CD</text>
<text x="1295.9" y="1911.4" font-size="47" text-anchor="middle" fill="#fff">DD</text>
<text x="1452.7" y="1908" font-size="25" text-anchor="middle">CP</text>
<text x="1358.2" y="2014" font-size="36" text-anchor="middle" font-style="italic">b</text>
<text transform="translate(1159.5,1797.5) rotate(-90)" font-size="36" font-style="italic" text-anchor="middle">q</text>
<rect x="1646.2" y="1651.5" width="303.3" height="302.1" fill="#e51521"/>
<path d="M1706.9 1651.5L1709.9 1665.9L1712.9 1679L1716 1690.9L1719 1701.8L1722 1711.9L1725.1 1721.2L1728.1 1729.8L1731.1 1737.8L1734.2 1745.3L1737.2 1752.2L1740.2 1758.7L1743.3 1764.8L1746.3 1770.5L1749.3 1775.9L1752.4 1781L1755.4 1785.8L1758.4 1790.3L1761.5 1794.6L1764.5 1798.7L1767.5 1802.5L1770.6 1806.2L1773.6 1809.7L1776.6 1813.1L1779.7 1816.3L1782.7 1819.3L1785.7 1822.3L1788.8 1825L1791.8 1827.7L1794.8 1830.3L1797.8 1832.8L1800.9 1835.1L1803.9 1837.4L1806.9 1839.6L1810 1841.7L1813 1843.7L1816 1845.7L1819.1 1847.6L1822.1 1849.4L1825.1 1851.2L1828.2 1852.9L1831.2 1854.6L1834.2 1856.1L1837.3 1857.7L1840.3 1859.2L1843.3 1860.6L1846.4 1862.1L1849.4 1863.4L1852.4 1864.7L1855.5 1866L1858.5 1867.3L1861.5 1868.5L1864.6 1869.7L1867.6 1870.8L1870.6 1872L1873.7 1873L1876.7 1874.1L1879.7 1875.1L1882.8 1876.1L1885.8 1877.1L1888.8 1878.1L1891.9 1879L1894.9 1879.9L1897.9 1880.8L1901 1881.7L1904 1882.5L1907 1883.3L1910.1 1884.2L1913.1 1884.9L1916.1 1885.7L1919.2 1886.5L1922.2 1887.2L1925.2 1887.9L1928.3 1888.6L1931.3 1889.3L1934.3 1890L1937.4 1890.7L1940.4 1891.3L1943.4 1891.9L1946.5 1892.6L1949.5 1893.2L1949.5 1651.5Z" fill="#342a8c"/>
<path d="M1842.1 1860.1L1847.5 1862.6L1852.9 1864.9L1858.2 1867.2L1863.6 1869.3L1869 1871.3L1874.3 1873.3L1879.7 1875.1L1885.1 1876.9L1890.4 1878.6L1895.8 1880.2L1901.2 1881.7L1906.6 1883.2L1911.9 1884.6L1917.3 1886L1922.7 1887.3L1928 1888.6L1933.4 1889.8L1938.8 1891L1944.1 1892.1L1949.5 1893.2L1949.5 1908.3Q1918.3 1906.8 1887 1901.3Z" fill="#f9e014"/>
<rect x="1646.2" y="1651.5" width="303.3" height="302.1" fill="none" stroke="#000" stroke-width="1.2"/>
<path d="M1646.2 1953.6v-4 M1646.2 1651.5v4 M1658.3 1953.6v-2.4 M1658.3 1651.5v2.4 M1670.5 1953.6v-2.4 M1670.5 1651.5v2.4 M1682.6 1953.6v-2.4 M1682.6 1651.5v2.4 M1694.7 1953.6v-2.4 M1694.7 1651.5v2.4 M1706.9 1953.6v-4 M1706.9 1651.5v4 M1719 1953.6v-2.4 M1719 1651.5v2.4 M1731.1 1953.6v-2.4 M1731.1 1651.5v2.4 M1743.3 1953.6v-2.4 M1743.3 1651.5v2.4 M1755.4 1953.6v-2.4 M1755.4 1651.5v2.4 M1767.5 1953.6v-4 M1767.5 1651.5v4 M1779.7 1953.6v-2.4 M1779.7 1651.5v2.4 M1791.8 1953.6v-2.4 M1791.8 1651.5v2.4 M1803.9 1953.6v-2.4 M1803.9 1651.5v2.4 M1816 1953.6v-2.4 M1816 1651.5v2.4 M1828.2 1953.6v-4 M1828.2 1651.5v4 M1840.3 1953.6v-2.4 M1840.3 1651.5v2.4 M1852.4 1953.6v-2.4 M1852.4 1651.5v2.4 M1864.6 1953.6v-2.4 M1864.6 1651.5v2.4 M1876.7 1953.6v-2.4 M1876.7 1651.5v2.4 M1888.8 1953.6v-4 M1888.8 1651.5v4 M1901 1953.6v-2.4 M1901 1651.5v2.4 M1913.1 1953.6v-2.4 M1913.1 1651.5v2.4 M1925.2 1953.6v-2.4 M1925.2 1651.5v2.4 M1937.4 1953.6v-2.4 M1937.4 1651.5v2.4 M1949.5 1953.6v-4 M1949.5 1651.5v4 M1646.2 1953.6h4 M1949.5 1953.6h-4 M1646.2 1938.5h2.4 M1949.5 1938.5h-2.4 M1646.2 1923.4h2.4 M1949.5 1923.4h-2.4 M1646.2 1908.3h2.4 M1949.5 1908.3h-2.4 M1646.2 1893.2h4 M1949.5 1893.2h-4 M1646.2 1878.1h2.4 M1949.5 1878.1h-2.4 M1646.2 1863h2.4 M1949.5 1863h-2.4 M1646.2 1847.9h2.4 M1949.5 1847.9h-2.4 M1646.2 1832.8h4 M1949.5 1832.8h-4 M1646.2 1817.7h2.4 M1949.5 1817.7h-2.4 M1646.2 1802.5h2.4 M1949.5 1802.5h-2.4 M1646.2 1787.4h2.4 M1949.5 1787.4h-2.4 M1646.2 1772.3h4 M1949.5 1772.3h-4 M1646.2 1757.2h2.4 M1949.5 1757.2h-2.4 M1646.2 1742.1h2.4 M1949.5 1742.1h-2.4 M1646.2 1727h2.4 M1949.5 1727h-2.4 M1646.2 1711.9h4 M1949.5 1711.9h-4 M1646.2 1696.8h2.4 M1949.5 1696.8h-2.4 M1646.2 1681.7h2.4 M1949.5 1681.7h-2.4 M1646.2 1666.6h2.4 M1949.5 1666.6h-2.4 M1646.2 1651.5h4 M1949.5 1651.5h-4 " stroke="#000" stroke-width="1" fill="none"/>
<text x="1646.2" y="1977.1" font-size="18.5" text-anchor="middle">0</text>
<text x="1706.9" y="1977.1" font-size="18.5" text-anchor="middle">1</text>
<text x="1767.5" y="1977.1" font-size="18.5" text-anchor="middle">2</text>
<text x="1828.2" y="1977.1" font-size="18.5" text-anchor="middle">3</text>
<text x="1888.8" y="1977.1" font-size="18.5" text-anchor="middle">4</text>
<text x="1949.5" y="1977.1" font-size="18.5" text-anchor="middle">5</text>
<text x="1642.2" y="1960.1" font-size="18.5" text-anchor="end">0.0</text>
<text x="1642.2" y="1899.7" font-size="18.5" text-anchor="end">0.2</text>
<text x="1642.2" y="1839.3" font-size="18.5" text-anchor="end">0.4</text>
<text x="1642.2" y="1778.8" font-size="18.5" text-anchor="end">0.6</text>
<text x="1642.2" y="1718.4" font-size="18.5" text-anchor="end">0.8</text>
<text x="1642.2" y="1658" font-size="18.5" text-anchor="end">1.0</text>
<text x="1797.8" y="1637" font-size="33" text-anchor="middle"><tspan class="sf">β</tspan>=3, <tspan class="sf">α</tspan>=1.2</text>
<text x="1858.1" y="1759.2" font-size="47" text-anchor="middle" fill="#fff">CD</text>
<text x="1737.5" y="1911.4" font-size="47" text-anchor="middle" fill="#fff">DD</text>
<text x="1900.6" y="1901.5" font-size="18" text-anchor="middle">CP</text>
<text x="1799.8" y="2014" font-size="36" text-anchor="middle" font-style="italic">b</text>
<text transform="translate(1601.2,1797.5) rotate(-90)" font-size="36" font-style="italic" text-anchor="middle">q</text>
<rect x="1115.8" y="2116.9" width="225.4" height="224" fill="#e51521"/>
<rect x="1115.8" y="2116.9" width="225.4" height="224" fill="none" stroke="#000" stroke-width="1.2"/>
<path d="M1115.8 2340.9v-4 M1115.8 2116.9v4 M1124.8 2340.9v-2.4 M1124.8 2116.9v2.4 M1133.8 2340.9v-2.4 M1133.8 2116.9v2.4 M1142.8 2340.9v-2.4 M1142.8 2116.9v2.4 M1151.9 2340.9v-2.4 M1151.9 2116.9v2.4 M1160.9 2340.9v-4 M1160.9 2116.9v4 M1169.9 2340.9v-2.4 M1169.9 2116.9v2.4 M1178.9 2340.9v-2.4 M1178.9 2116.9v2.4 M1187.9 2340.9v-2.4 M1187.9 2116.9v2.4 M1196.9 2340.9v-2.4 M1196.9 2116.9v2.4 M1206 2340.9v-4 M1206 2116.9v4 M1215 2340.9v-2.4 M1215 2116.9v2.4 M1224 2340.9v-2.4 M1224 2116.9v2.4 M1233 2340.9v-2.4 M1233 2116.9v2.4 M1242 2340.9v-2.4 M1242 2116.9v2.4 M1251 2340.9v-4 M1251 2116.9v4 M1260.1 2340.9v-2.4 M1260.1 2116.9v2.4 M1269.1 2340.9v-2.4 M1269.1 2116.9v2.4 M1278.1 2340.9v-2.4 M1278.1 2116.9v2.4 M1287.1 2340.9v-2.4 M1287.1 2116.9v2.4 M1296.1 2340.9v-4 M1296.1 2116.9v4 M1305.1 2340.9v-2.4 M1305.1 2116.9v2.4 M1314.2 2340.9v-2.4 M1314.2 2116.9v2.4 M1323.2 2340.9v-2.4 M1323.2 2116.9v2.4 M1332.2 2340.9v-2.4 M1332.2 2116.9v2.4 M1341.2 2340.9v-4 M1341.2 2116.9v4 M1115.8 2340.9h4 M1341.2 2340.9h-4 M1115.8 2331.9h2.4 M1341.2 2331.9h-2.4 M1115.8 2323h2.4 M1341.2 2323h-2.4 M1115.8 2314h2.4 M1341.2 2314h-2.4 M1115.8 2305.1h2.4 M1341.2 2305.1h-2.4 M1115.8 2296.1h4 M1341.2 2296.1h-4 M1115.8 2287.1h2.4 M1341.2 2287.1h-2.4 M1115.8 2278.2h2.4 M1341.2 2278.2h-2.4 M1115.8 2269.2h2.4 M1341.2 2269.2h-2.4 M1115.8 2260.3h2.4 M1341.2 2260.3h-2.4 M1115.8 2251.3h4 M1341.2 2251.3h-4 M1115.8 2242.3h2.4 M1341.2 2242.3h-2.4 M1115.8 2233.4h2.4 M1341.2 2233.4h-2.4 M1115.8 2224.4h2.4 M1341.2 2224.4h-2.4 M1115.8 2215.5h2.4 M1341.2 2215.5h-2.4 M1115.8 2206.5h4 M1341.2 2206.5h-4 M1115.8 2197.5h2.4 M1341.2 2197.5h-2.4 M1115.8 2188.6h2.4 M1341.2 2188.6h-2.4 M1115.8 2179.6h2.4 M1341.2 2179.6h-2.4 M1115.8 2170.7h2.4 M1341.2 2170.7h-2.4 M1115.8 2161.7h4 M1341.2 2161.7h-4 M1115.8 2152.7h2.4 M1341.2 2152.7h-2.4 M1115.8 2143.8h2.4 M1341.2 2143.8h-2.4 M1115.8 2134.8h2.4 M1341.2 2134.8h-2.4 M1115.8 2125.9h2.4 M1341.2 2125.9h-2.4 M1115.8 2116.9h4 M1341.2 2116.9h-4 " stroke="#000" stroke-width="1" fill="none"/>
<text x="1115.8" y="2364.4" font-size="18" text-anchor="middle">0</text>
<text x="1160.9" y="2364.4" font-size="18" text-anchor="middle">1</text>
<text x="1206" y="2364.4" font-size="18" text-anchor="middle">2</text>
<text x="1251" y="2364.4" font-size="18" text-anchor="middle">3</text>
<text x="1296.1" y="2364.4" font-size="18" text-anchor="middle">4</text>
<text x="1341.2" y="2364.4" font-size="18" text-anchor="middle">5</text>
<text x="1111.8" y="2347.4" font-size="18" text-anchor="end">0</text>
<text x="1111.8" y="2302.6" font-size="18" text-anchor="end">1</text>
<text x="1111.8" y="2257.8" font-size="18" text-anchor="end">2</text>
<text x="1111.8" y="2213" font-size="18" text-anchor="end">3</text>
<text x="1111.8" y="2168.2" font-size="18" text-anchor="end">4</text>
<text x="1111.8" y="2123.4" font-size="18" text-anchor="end">5</text>
<text x="1228.5" y="2101.5" font-size="33" text-anchor="middle"><tspan font-style="italic">q</tspan>=0.3</text>
<text x="1228.5" y="2247" font-size="47" text-anchor="middle" fill="#fff">DD</text>
<text x="1230.5" y="2395" font-size="38" text-anchor="middle" class="sf">α</text>
<text transform="translate(1080.8,2226.9) rotate(-90)" font-size="38" class="sf" text-anchor="middle">β</text>
<rect x="1454.9" y="2116.9" width="224.7" height="224" fill="#e51521"/>
<path d="M1454.9 2251.3L1513.5 2309.8L1499 2333.3L1454.9 2333.3Z" fill="#f9e014"/>
<text x="1479.7" y="2318.2" font-size="19.5" text-anchor="middle">CP</text>
<rect x="1454.9" y="2116.9" width="224.7" height="224" fill="none" stroke="#000" stroke-width="1.2"/>
<path d="M1454.9 2340.9v-4 M1454.9 2116.9v4 M1463.9 2340.9v-2.4 M1463.9 2116.9v2.4 M1472.9 2340.9v-2.4 M1472.9 2116.9v2.4 M1481.9 2340.9v-2.4 M1481.9 2116.9v2.4 M1490.9 2340.9v-2.4 M1490.9 2116.9v2.4 M1499.8 2340.9v-4 M1499.8 2116.9v4 M1508.8 2340.9v-2.4 M1508.8 2116.9v2.4 M1517.8 2340.9v-2.4 M1517.8 2116.9v2.4 M1526.8 2340.9v-2.4 M1526.8 2116.9v2.4 M1535.8 2340.9v-2.4 M1535.8 2116.9v2.4 M1544.8 2340.9v-4 M1544.8 2116.9v4 M1553.8 2340.9v-2.4 M1553.8 2116.9v2.4 M1562.8 2340.9v-2.4 M1562.8 2116.9v2.4 M1571.7 2340.9v-2.4 M1571.7 2116.9v2.4 M1580.7 2340.9v-2.4 M1580.7 2116.9v2.4 M1589.7 2340.9v-4 M1589.7 2116.9v4 M1598.7 2340.9v-2.4 M1598.7 2116.9v2.4 M1607.7 2340.9v-2.4 M1607.7 2116.9v2.4 M1616.7 2340.9v-2.4 M1616.7 2116.9v2.4 M1625.7 2340.9v-2.4 M1625.7 2116.9v2.4 M1634.7 2340.9v-4 M1634.7 2116.9v4 M1643.6 2340.9v-2.4 M1643.6 2116.9v2.4 M1652.6 2340.9v-2.4 M1652.6 2116.9v2.4 M1661.6 2340.9v-2.4 M1661.6 2116.9v2.4 M1670.6 2340.9v-2.4 M1670.6 2116.9v2.4 M1679.6 2340.9v-4 M1679.6 2116.9v4 M1454.9 2340.9h4 M1679.6 2340.9h-4 M1454.9 2331.9h2.4 M1679.6 2331.9h-2.4 M1454.9 2323h2.4 M1679.6 2323h-2.4 M1454.9 2314h2.4 M1679.6 2314h-2.4 M1454.9 2305.1h2.4 M1679.6 2305.1h-2.4 M1454.9 2296.1h4 M1679.6 2296.1h-4 M1454.9 2287.1h2.4 M1679.6 2287.1h-2.4 M1454.9 2278.2h2.4 M1679.6 2278.2h-2.4 M1454.9 2269.2h2.4 M1679.6 2269.2h-2.4 M1454.9 2260.3h2.4 M1679.6 2260.3h-2.4 M1454.9 2251.3h4 M1679.6 2251.3h-4 M1454.9 2242.3h2.4 M1679.6 2242.3h-2.4 M1454.9 2233.4h2.4 M1679.6 2233.4h-2.4 M1454.9 2224.4h2.4 M1679.6 2224.4h-2.4 M1454.9 2215.5h2.4 M1679.6 2215.5h-2.4 M1454.9 2206.5h4 M1679.6 2206.5h-4 M1454.9 2197.5h2.4 M1679.6 2197.5h-2.4 M1454.9 2188.6h2.4 M1679.6 2188.6h-2.4 M1454.9 2179.6h2.4 M1679.6 2179.6h-2.4 M1454.9 2170.7h2.4 M1679.6 2170.7h-2.4 M1454.9 2161.7h4 M1679.6 2161.7h-4 M1454.9 2152.7h2.4 M1679.6 2152.7h-2.4 M1454.9 2143.8h2.4 M1679.6 2143.8h-2.4 M1454.9 2134.8h2.4 M1679.6 2134.8h-2.4 M1454.9 2125.9h2.4 M1679.6 2125.9h-2.4 M1454.9 2116.9h4 M1679.6 2116.9h-4 " stroke="#000" stroke-width="1" fill="none"/>
<text x="1454.9" y="2364.4" font-size="18" text-anchor="middle">0</text>
<text x="1499.8" y="2364.4" font-size="18" text-anchor="middle">1</text>
<text x="1544.8" y="2364.4" font-size="18" text-anchor="middle">2</text>
<text x="1589.7" y="2364.4" font-size="18" text-anchor="middle">3</text>
<text x="1634.7" y="2364.4" font-size="18" text-anchor="middle">4</text>
<text x="1679.6" y="2364.4" font-size="18" text-anchor="middle">5</text>
<text x="1450.9" y="2347.4" font-size="18" text-anchor="end">0</text>
<text x="1450.9" y="2302.6" font-size="18" text-anchor="end">1</text>
<text x="1450.9" y="2257.8" font-size="18" text-anchor="end">2</text>
<text x="1450.9" y="2213" font-size="18" text-anchor="end">3</text>
<text x="1450.9" y="2168.2" font-size="18" text-anchor="end">4</text>
<text x="1450.9" y="2123.4" font-size="18" text-anchor="end">5</text>
<text x="1567.2" y="2101.5" font-size="33" text-anchor="middle"><tspan font-style="italic">q</tspan>=0.6</text>
<text x="1567.2" y="2247" font-size="47" text-anchor="middle" fill="#fff">DD</text>
<text x="1569.2" y="2395" font-size="38" text-anchor="middle" class="sf">α</text>
<text transform="translate(1419.9,2226.9) rotate(-90)" font-size="38" class="sf" text-anchor="middle">β</text>
<rect x="1794" y="2116.9" width="224.7" height="224" fill="#342a8c"/>
<rect x="1794" y="2116.9" width="224.7" height="224" fill="none" stroke="#000" stroke-width="1.2"/>
<path d="M1794 2340.9v-4 M1794 2116.9v4 M1803 2340.9v-2.4 M1803 2116.9v2.4 M1812 2340.9v-2.4 M1812 2116.9v2.4 M1821 2340.9v-2.4 M1821 2116.9v2.4 M1830 2340.9v-2.4 M1830 2116.9v2.4 M1838.9 2340.9v-4 M1838.9 2116.9v4 M1847.9 2340.9v-2.4 M1847.9 2116.9v2.4 M1856.9 2340.9v-2.4 M1856.9 2116.9v2.4 M1865.9 2340.9v-2.4 M1865.9 2116.9v2.4 M1874.9 2340.9v-2.4 M1874.9 2116.9v2.4 M1883.9 2340.9v-4 M1883.9 2116.9v4 M1892.9 2340.9v-2.4 M1892.9 2116.9v2.4 M1901.9 2340.9v-2.4 M1901.9 2116.9v2.4 M1910.8 2340.9v-2.4 M1910.8 2116.9v2.4 M1919.8 2340.9v-2.4 M1919.8 2116.9v2.4 M1928.8 2340.9v-4 M1928.8 2116.9v4 M1937.8 2340.9v-2.4 M1937.8 2116.9v2.4 M1946.8 2340.9v-2.4 M1946.8 2116.9v2.4 M1955.8 2340.9v-2.4 M1955.8 2116.9v2.4 M1964.8 2340.9v-2.4 M1964.8 2116.9v2.4 M1973.8 2340.9v-4 M1973.8 2116.9v4 M1982.7 2340.9v-2.4 M1982.7 2116.9v2.4 M1991.7 2340.9v-2.4 M1991.7 2116.9v2.4 M2000.7 2340.9v-2.4 M2000.7 2116.9v2.4 M2009.7 2340.9v-2.4 M2009.7 2116.9v2.4 M2018.7 2340.9v-4 M2018.7 2116.9v4 M1794 2340.9h4 M2018.7 2340.9h-4 M1794 2331.9h2.4 M2018.7 2331.9h-2.4 M1794 2323h2.4 M2018.7 2323h-2.4 M1794 2314h2.4 M2018.7 2314h-2.4 M1794 2305.1h2.4 M2018.7 2305.1h-2.4 M1794 2296.1h4 M2018.7 2296.1h-4 M1794 2287.1h2.4 M2018.7 2287.1h-2.4 M1794 2278.2h2.4 M2018.7 2278.2h-2.4 M1794 2269.2h2.4 M2018.7 2269.2h-2.4 M1794 2260.3h2.4 M2018.7 2260.3h-2.4 M1794 2251.3h4 M2018.7 2251.3h-4 M1794 2242.3h2.4 M2018.7 2242.3h-2.4 M1794 2233.4h2.4 M2018.7 2233.4h-2.4 M1794 2224.4h2.4 M2018.7 2224.4h-2.4 M1794 2215.5h2.4 M2018.7 2215.5h-2.4 M1794 2206.5h4 M2018.7 2206.5h-4 M1794 2197.5h2.4 M2018.7 2197.5h-2.4 M1794 2188.6h2.4 M2018.7 2188.6h-2.4 M1794 2179.6h2.4 M2018.7 2179.6h-2.4 M1794 2170.7h2.4 M2018.7 2170.7h-2.4 M1794 2161.7h4 M2018.7 2161.7h-4 M1794 2152.7h2.4 M2018.7 2152.7h-2.4 M1794 2143.8h2.4 M2018.7 2143.8h-2.4 M1794 2134.8h2.4 M2018.7 2134.8h-2.4 M1794 2125.9h2.4 M2018.7 2125.9h-2.4 M1794 2116.9h4 M2018.7 2116.9h-4 " stroke="#000" stroke-width="1" fill="none"/>
<text x="1794" y="2364.4" font-size="18" text-anchor="middle">0</text>
<text x="1838.9" y="2364.4" font-size="18" text-anchor="middle">1</text>
<text x="1883.9" y="2364.4" font-size="18" text-anchor="middle">2</text>
<text x="1928.8" y="2364.4" font-size="18" text-anchor="middle">3</text>
<text x="1973.8" y="2364.4" font-size="18" text-anchor="middle">4</text>
<text x="2018.7" y="2364.4" font-size="18" text-anchor="middle">5</text>
<text x="1790" y="2347.4" font-size="18" text-anchor="end">0</text>
<text x="1790" y="2302.6" font-size="18" text-anchor="end">1</text>
<text x="1790" y="2257.8" font-size="18" text-anchor="end">2</text>
<text x="1790" y="2213" font-size="18" text-anchor="end">3</text>
<text x="1790" y="2168.2" font-size="18" text-anchor="end">4</text>
<text x="1790" y="2123.4" font-size="18" text-anchor="end">5</text>
<text x="1906.3" y="2101.5" font-size="33" text-anchor="middle"><tspan font-style="italic">q</tspan>=0.9</text>
<text x="1906.3" y="2247" font-size="47" text-anchor="middle" fill="#fff">CD</text>
<text x="1908.3" y="2395" font-size="38" text-anchor="middle" class="sf">α</text>
<text transform="translate(1759,2226.9) rotate(-90)" font-size="38" class="sf" text-anchor="middle">β</text>
<path d="M1353.6 2213.4h14.5v-20.5l19.5 37l-19.5 37v-20.5h-14.5z" fill="#fff" stroke="#000" stroke-width="1.8"/>
<path d="M1692 2213.4h14.5v-20.5l19.5 37l-19.5 37v-20.5h-14.5z" fill="#fff" stroke="#000" stroke-width="1.8"/>
<path d="M507.4 2202.3L632.1 2235.7L723.4 2327L756.8 2451.7L723.4 2576.4L632.1 2667.7L507.4 2701.1L382.7 2667.7L291.4 2576.4L258 2451.7L291.4 2327L382.7 2235.7Z" fill="none" stroke="#ec671c" stroke-width="31" stroke-linejoin="miter"/>
<path d="M507.4 2202.3L632.1 2235.7L723.4 2327L756.8 2451.7L723.4 2576.4L632.1 2667.7L507.4 2701.1L382.7 2667.7L291.4 2576.4L258 2451.7L291.4 2327L382.7 2235.7Z" fill="none" stroke="#204ea3" stroke-width="5.6"/>
<path d="M507.4 2202.3A152 152 0 0 0 723.4 2327M632.1 2235.7A152 152 0 0 0 756.8 2451.7M723.4 2327A152 152 0 0 0 723.4 2576.4M756.8 2451.7A152 152 0 0 0 632.1 2667.7M723.4 2576.4A152 152 0 0 0 507.4 2701.1M632.1 2667.7A152 152 0 0 0 382.7 2667.7M507.4 2701.1A152 152 0 0 0 291.4 2576.4M382.7 2667.7A152 152 0 0 0 258 2451.7M291.4 2576.4A152 152 0 0 0 291.4 2327M258 2451.7A152 152 0 0 0 382.7 2235.7M291.4 2327A152 152 0 0 0 507.4 2202.3M382.7 2235.7A152 152 0 0 0 632.1 2235.7" fill="none" stroke="#2966ae" stroke-width="24.5"/>
<g fill="#204ea3"><circle cx="507.4" cy="2202.3" r="16.5"/><circle cx="632.1" cy="2235.7" r="16.5"/><circle cx="723.4" cy="2327" r="16.5"/><circle cx="756.8" cy="2451.7" r="16.5"/><circle cx="723.4" cy="2576.4" r="16.5"/><circle cx="632.1" cy="2667.7" r="16.5"/><circle cx="507.4" cy="2701.1" r="16.5"/><circle cx="382.7" cy="2667.7" r="16.5"/><circle cx="291.4" cy="2576.4" r="16.5"/><circle cx="258" cy="2451.7" r="16.5"/><circle cx="291.4" cy="2327" r="16.5"/><circle cx="382.7" cy="2235.7" r="16.5"/></g>
<text x="757.5" y="2631.5" font-size="34" font-style="italic" class="sf" textLength="69" lengthAdjust="spacing">h = 2</text>
<text x="757.5" y="2670.5" font-size="34" font-style="italic" class="sf" textLength="69" lengthAdjust="spacing">g = 4</text>
<text x="764" y="2710.5" font-size="34" font-style="italic" class="sf" textLength="59" lengthAdjust="spacing">l = 2</text>
<line x1="245.6" y1="3015.6" x2="732.4" y2="3146" stroke="#2966ae" stroke-width="32.5" stroke-linecap="butt"/>
<line x1="506.5" y1="2754.7" x2="636.9" y2="2789.7" stroke="#ec671c" stroke-width="32.5" stroke-linecap="butt"/>
<line x1="732.4" y1="2885.2" x2="767.4" y2="3015.6" stroke="#ec671c" stroke-width="32.5" stroke-linecap="butt"/>
<line x1="280.6" y1="3146.1" x2="245.6" y2="3015.6" stroke="#ec671c" stroke-width="32.5" stroke-linecap="butt"/>
<line x1="376" y1="3241.5" x2="506.5" y2="3276.5" stroke="#ec671c" stroke-width="32.5" stroke-linecap="butt"/>
<line x1="376" y1="2789.7" x2="280.6" y2="2885.2" stroke="#ec671c" stroke-width="32.5" stroke-linecap="butt"/>
<line x1="376" y1="3241.5" x2="732.4" y2="3146" stroke="#ec671c" stroke-width="32.5" stroke-linecap="butt"/>
<line x1="506.5" y1="3276.5" x2="732.4" y2="3146" stroke="#ec671c" stroke-width="32.5" stroke-linecap="butt"/>
<line x1="506.5" y1="3276.5" x2="636.9" y2="3241.5" stroke="#ec671c" stroke-width="32.5" stroke-linecap="butt"/>
<line x1="506.5" y1="3276.5" x2="636.9" y2="3241.5" stroke="#204ea3" stroke-width="5.2" stroke-linecap="butt"/>
<line x1="280.6" y1="3146.1" x2="636.9" y2="2789.7" stroke="#ec671c" stroke-width="32.5" stroke-linecap="butt"/>
<line x1="245.6" y1="3015.6" x2="506.5" y2="2754.7" stroke="#ec671c" stroke-width="32.5" stroke-linecap="butt"/>
<line x1="245.6" y1="3015.6" x2="506.5" y2="2754.7" stroke="#204ea3" stroke-width="5.2" stroke-linecap="butt"/>
<line x1="732.4" y1="2885.2" x2="280.6" y2="3146.1" stroke="#ec671c" stroke-width="32.5" stroke-linecap="butt"/>
<line x1="732.4" y1="2885.2" x2="280.6" y2="3146.1" stroke="#204ea3" stroke-width="5.2" stroke-linecap="butt"/>
<line x1="767.4" y1="3015.6" x2="376" y2="2789.7" stroke="#ec671c" stroke-width="32.5" stroke-linecap="butt"/>
<line x1="767.4" y1="3015.6" x2="376" y2="2789.7" stroke="#204ea3" stroke-width="5.2" stroke-linecap="butt"/>
<line x1="636.9" y1="2789.7" x2="376" y2="3241.5" stroke="#ec671c" stroke-width="32.5" stroke-linecap="butt"/>
<line x1="636.9" y1="2789.7" x2="376" y2="3241.5" stroke="#204ea3" stroke-width="5.2" stroke-linecap="butt"/>
<line x1="506.5" y1="2754.7" x2="280.6" y2="3146.1" stroke="#2966ae" stroke-width="32.5" stroke-linecap="butt"/>
<line x1="376" y1="2789.7" x2="280.6" y2="3146.1" stroke="#2966ae" stroke-width="32.5" stroke-linecap="butt"/>
<line x1="280.6" y1="2885.2" x2="376" y2="3241.5" stroke="#2966ae" stroke-width="32.5" stroke-linecap="butt"/>
<line x1="245.6" y1="3015.6" x2="280.6" y2="2885.2" stroke="#2966ae" stroke-width="32.5" stroke-linecap="butt"/>
<line x1="280.6" y1="2885.2" x2="732.4" y2="3146" stroke="#ec671c" stroke-width="32.5" stroke-linecap="butt"/>
<line x1="280.6" y1="2885.2" x2="732.4" y2="3146" stroke="#204ea3" stroke-width="5.2" stroke-linecap="butt"/>
<line x1="376" y1="3241.5" x2="767.4" y2="3015.6" stroke="#2966ae" stroke-width="32.5" stroke-linecap="butt"/>
<line x1="732.4" y1="2885.2" x2="506.5" y2="3276.5" stroke="#2966ae" stroke-width="32.5" stroke-linecap="butt"/>
<line x1="636.9" y1="2789.7" x2="506.5" y2="3276.5" stroke="#2966ae" stroke-width="32.5" stroke-linecap="butt"/>
<line x1="506.5" y1="2754.7" x2="732.4" y2="2885.2" stroke="#2966ae" stroke-width="32.5" stroke-linecap="butt"/>
<line x1="767.4" y1="3015.6" x2="636.9" y2="3241.5" stroke="#2966ae" stroke-width="32.5" stroke-linecap="butt"/>
<line x1="506.5" y1="2754.7" x2="636.9" y2="3241.5" stroke="#ec671c" stroke-width="32.5" stroke-linecap="butt"/>
<line x1="636.9" y1="2789.7" x2="636.9" y2="3241.5" stroke="#2966ae" stroke-width="32.5" stroke-linecap="butt"/>
<line x1="376" y1="2789.7" x2="732.4" y2="3146" stroke="#2966ae" stroke-width="32.5" stroke-linecap="butt"/>
<line x1="506.5" y1="2754.7" x2="732.4" y2="2885.2" stroke="#2966ae" stroke-width="32.5" stroke-linecap="butt"/>
<line x1="280.6" y1="2885.2" x2="767.4" y2="3015.6" stroke="#ec671c" stroke-width="32.5" stroke-linecap="butt"/>
<line x1="280.6" y1="2885.2" x2="732.4" y2="2885.2" stroke="#ec671c" stroke-width="32.5" stroke-linecap="butt"/>
<g fill="#204ea3"><circle cx="506.5" cy="2754.7" r="17.3"/><circle cx="636.9" cy="2789.7" r="17.3"/><circle cx="732.4" cy="2885.2" r="17.3"/><circle cx="767.4" cy="3015.6" r="17.3"/><circle cx="732.4" cy="3146" r="17.3"/><circle cx="636.9" cy="3241.5" r="17.3"/><circle cx="506.5" cy="3276.5" r="17.3"/><circle cx="376" cy="3241.5" r="17.3"/><circle cx="280.6" cy="3146.1" r="17.3"/><circle cx="245.6" cy="3015.6" r="17.3"/><circle cx="280.6" cy="2885.2" r="17.3"/><circle cx="376" cy="2789.7" r="17.3"/></g>
<text x="757.5" y="3214.5" font-size="34" font-style="italic" class="sf" textLength="69" lengthAdjust="spacing">h = 3</text>
<text x="757.5" y="3254.5" font-size="34" font-style="italic" class="sf" textLength="69" lengthAdjust="spacing">g = 3</text>
<text x="764" y="3294.5" font-size="34" font-style="italic" class="sf" textLength="59" lengthAdjust="spacing">l = 1</text>
<path d="M1091.2 3147.5H1042.2V2548.5H2021V2638.7" fill="none" stroke="#000" stroke-width="6.2" stroke-linejoin="miter"/>
<path d="M2021 2648.2l-9 -17h18z" fill="#000"/>
<rect x="1149" y="2677.5" width="177.3" height="86.3" fill="none" stroke="#000" stroke-width="2.4"/>
<text x="1237.5" y="2734.5" font-size="29.2" text-anchor="middle">queen</text>
<line x1="1237.6" y1="2763.7" x2="1237.6" y2="2846.7" stroke="#000" stroke-width="5"/>
<path d="M1237.6 2858.7l-9 -17h18z" fill="#000"/>
<text x="1253.5" y="2820" font-size="29.2">reproduction</text>
<rect x="1096" y="2858.7" width="650.5" height="121.9" fill="none" stroke="#000" stroke-width="2.4"/>
<line x1="1502.7" y1="2858.7" x2="1502.7" y2="2980.6" stroke="#000" stroke-width="2.4"/>
<text x="1299.3" y="2932" font-size="29.2" text-anchor="middle">queen-derived eggs</text>
<text x="1624.6" y="2914" font-size="29.2" text-anchor="middle">worker-derived</text>
<text x="1624.6" y="2949" font-size="29.2" text-anchor="middle">eggs</text>
<line x1="1746.4" y1="2858.7" x2="2121.5" y2="2858.7" stroke="#000" stroke-width="2.4" stroke-dasharray="12.6 7.4"/>
<line x1="1746.4" y1="2980.6" x2="1920.5" y2="2980.6" stroke="#000" stroke-width="2.4" stroke-dasharray="12.6 7.4"/>
<rect x="1920.5" y="2721" width="201" height="259.6" fill="none" stroke="#000" stroke-width="2.4"/>
<text x="2021" y="2798.5" font-size="29.2" text-anchor="middle">laying eggs</text>
<text x="2021" y="2914.5" font-size="29.2" text-anchor="middle">working for</text>
<text x="2021" y="2949.5" font-size="29.2" text-anchor="middle">the colony</text>
<text x="1920.5" y="2696" font-size="29.2">workers</text>
<text x="2032" y="2698" font-size="43" class="sf" font-style="italic">W<tspan dx="9" font-style="normal">(</tspan><tspan dx="2">t</tspan><tspan dx="3" font-style="normal">)</tspan></text>
<text x="1659.5" y="2713" font-size="29.2">policing</text>
<text x="1770" y="2711" font-size="43" font-style="italic" class="sf">p</text>
<line x1="1721.9" y1="2728.1" x2="1721.9" y2="2771.6" stroke="#000" stroke-width="6"/>
<rect x="1705.3" y="2769.3" width="33.2" height="12.7" fill="#000"/>
<path d="M1920.5 2790.6H1620.6V2846.7" fill="none" stroke="#000" stroke-width="6.2"/>
<path d="M1620.6 2858.7l-9 -17h18z" fill="#000"/>
<text x="1690.5" y="2823" font-size="29.2">reproduction</text>
<path d="M1920.5 2907.8L1791.5 2907.8L1791.5 2891.9L1748 2922L1791.5 2952.9L1791.5 2937L1920.5 2937" fill="none" stroke="#000" stroke-width="2.4"/>
<path d="M2121.5 2721q10 0 10 10V2779.8q0 10 10 10q-10 0 -10 10V2848.7q0 10 -10 10" fill="none" stroke="#000" stroke-width="2.4"/>
<path d="M2121.5 2858.7q10 0 10 10V2909.6q0 10 10 10q-10 0 -10 10V2970.6q0 10 -10 10" fill="none" stroke="#000" stroke-width="2.4"/>
<text y="2805.5" font-size="42" class="sf"><tspan x="2149">1</tspan><tspan x="2173">–</tspan><tspan x="2205" font-style="italic">s</tspan></text>
<text x="2181" y="2931.5" font-size="43" font-style="italic" class="sf">s</text>
<path d="M1096 2981.6q0 14 14 14H1150q14 0 14 14q0 -14 14 -14H1218.1q14 0 14 -14" fill="none" stroke="#000" stroke-width="2.4"/>
<path d="M1232.1 2981.6q0 14 14 14H1285.3q14 0 14 14q0 -14 14 -14H1352.6q14 0 14 -14" fill="none" stroke="#000" stroke-width="2.4"/>
<path d="M1366.6 2981.6q0 14 14 14H1420.7q14 0 14 14q0 -14 14 -14H1488.7q14 0 14 -14" fill="none" stroke="#000" stroke-width="2.4"/>
<text x="1164" y="3051" font-size="43" class="sf" font-style="italic" text-anchor="middle">fw</text>
<text x="1293" y="3051" font-size="43" class="sf" text-anchor="middle"><tspan font-style="italic">f</tspan><tspan dx="5">(1 – </tspan><tspan font-style="italic">w</tspan><tspan dx="2">)</tspan></text>
<text x="1433.9" y="3051" font-size="43" class="sf" text-anchor="middle">1 – <tspan font-style="italic">f</tspan></text>
<line x1="1164" y1="3066.8" x2="1164" y2="3093.6" stroke="#000" stroke-width="6.5"/>
<path d="M1164 3105.6l-10 -17h20z" fill="#000"/>
<line x1="1298.5" y1="3066.8" x2="1298.5" y2="3093.6" stroke="#000" stroke-width="6.5"/>
<path d="M1298.5 3105.6l-10 -17h20z" fill="#000"/>
<line x1="1433.9" y1="3066.8" x2="1433.9" y2="3093.6" stroke="#000" stroke-width="6.5"/>
<path d="M1433.9 3105.6l-10 -17h20z" fill="#000"/>
<text x="1164" y="3141.5" font-size="29.2" text-anchor="middle">new</text>
<text x="1164" y="3171" font-size="29.2" text-anchor="middle">workers</text>
<text x="1302.5" y="3159" font-size="29.2" text-anchor="middle">gynes</text>
<text x="1434.7" y="3159" font-size="29.2" text-anchor="middle">males</text>
<text x="1619" y="3159" font-size="29.2" text-anchor="middle">males</text>
<line x1="1620.6" y1="2980.6" x2="1620.6" y2="3089.2" stroke="#000" stroke-width="6.5"/>
<path d="M1620.6 3103.2l-10 -20h20z" fill="#000"/>
<line x1="1298.5" y1="3179.2" x2="1298.5" y2="3287.1" stroke="#000" stroke-width="6.5"/>
<path d="M1298.5 3301.1l-10 -20h20z" fill="#000"/>
<line x1="1433.9" y1="3179.2" x2="1433.9" y2="3287.1" stroke="#000" stroke-width="6.5"/>
<path d="M1433.9 3301.1l-10 -20h20z" fill="#000"/>
<line x1="1620.6" y1="3179.2" x2="1620.6" y2="3287.1" stroke="#000" stroke-width="6.5"/>
<path d="M1620.6 3301.1l-10 -20h20z" fill="#000"/>
<line x1="1217.8" y1="3246.5" x2="1835.1" y2="3246.5" stroke="#000" stroke-width="2.4" stroke-dasharray="12.6 7.4"/>
<text x="1302.5" y="3344" font-size="43" class="sf" font-style="italic" text-anchor="middle">G<tspan font-style="normal">(</tspan><tspan dx="2">t</tspan><tspan dx="3" font-style="normal">)</tspan></text>
<text x="1437" y="3344" font-size="43" class="sf" font-style="italic" text-anchor="middle">M<tspan font-style="normal">(</tspan><tspan dx="2">t</tspan><tspan dx="3" font-style="normal">)</tspan></text>
<text x="1626.2" y="3344" font-size="43" class="sf" font-style="italic" text-anchor="middle">m<tspan font-size="26" dy="9">i</tspan><tspan dy="-9" dx="1" font-style="normal">(</tspan><tspan dx="2">t</tspan><tspan dx="3" font-style="normal">)</tspan></text>
</svg>
</body></html>
